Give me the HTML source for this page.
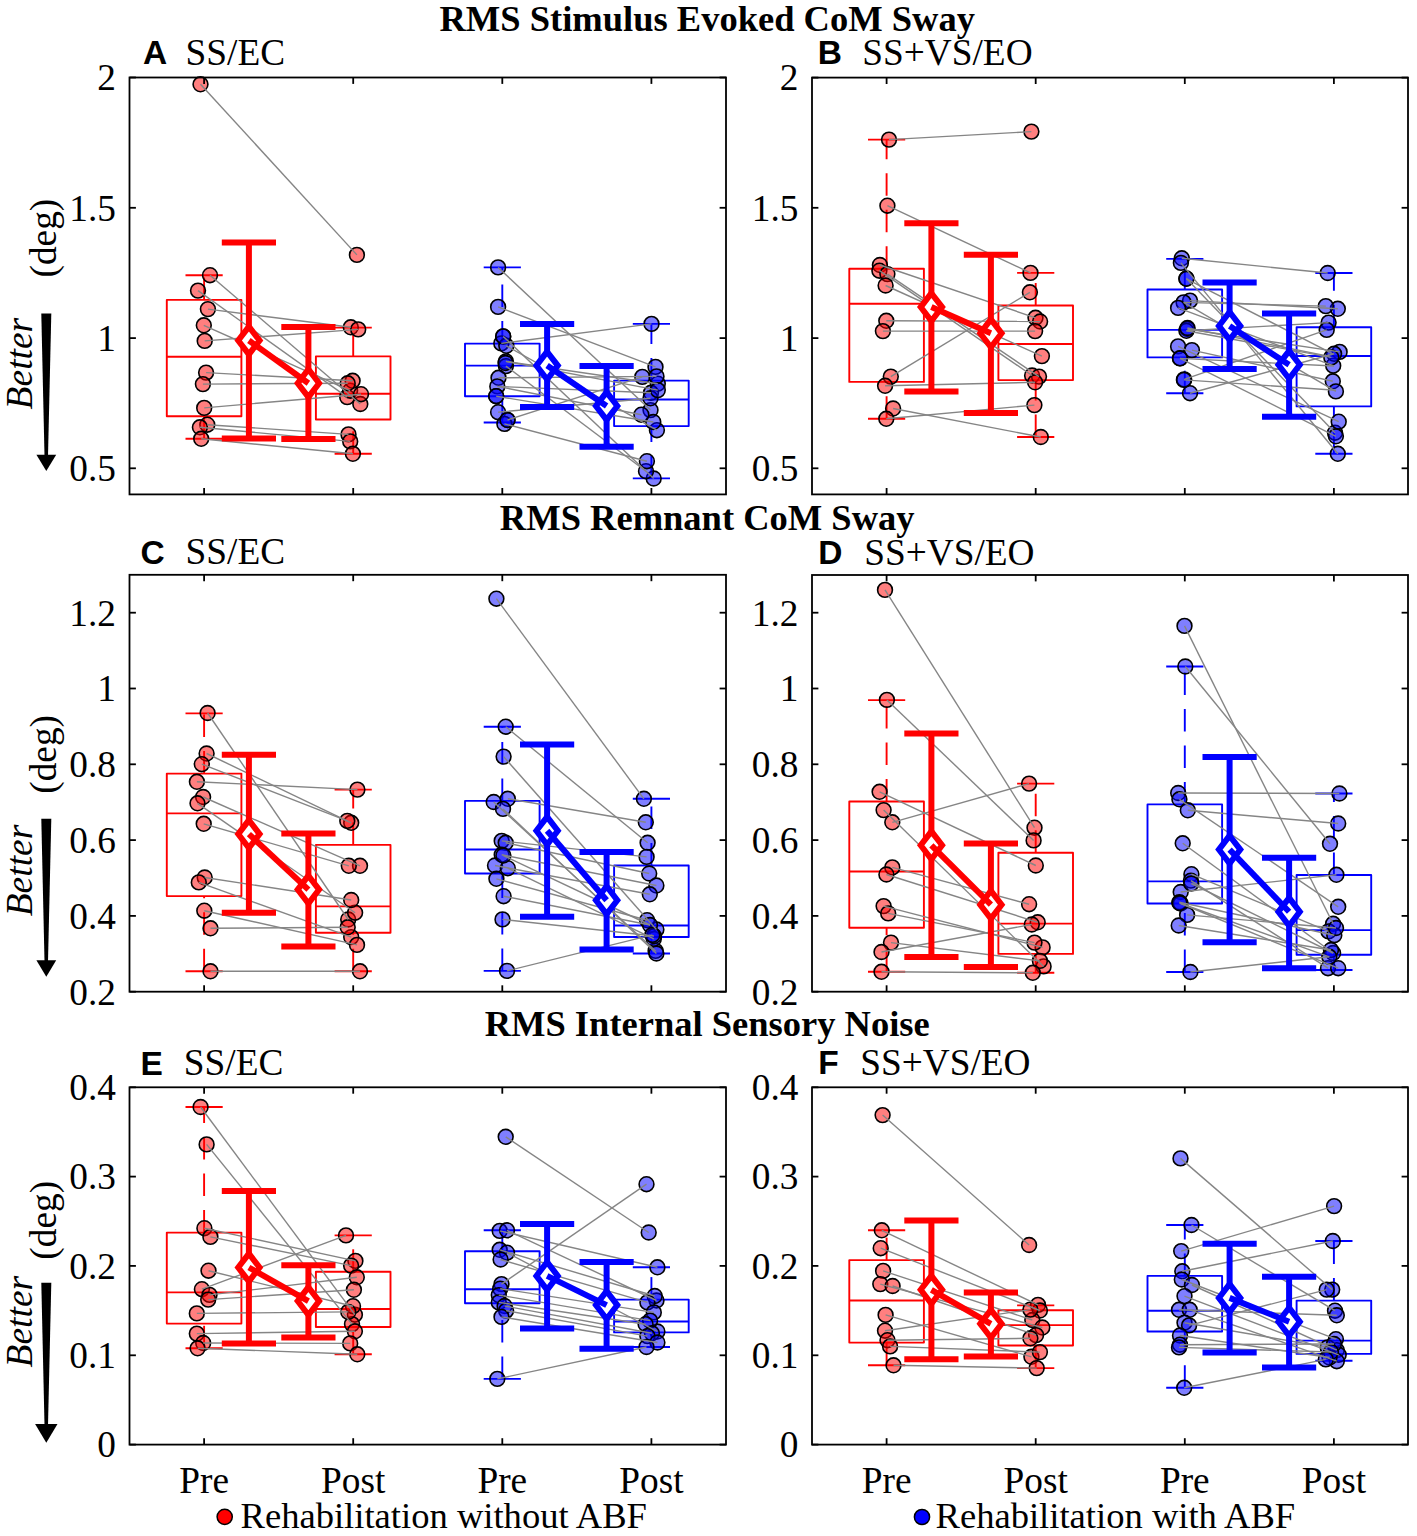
<!DOCTYPE html><html><head><meta charset="utf-8"><style>html,body{margin:0;padding:0;background:#fff}svg{display:block}.tl{font-family:"Liberation Serif",serif;font-size:37.3px;fill:#000}.lg{font-family:"Liberation Serif",serif;font-size:36.6px;fill:#000}.it{font-family:"Liberation Serif",serif;font-size:37.5px;font-style:italic;fill:#000}.pl{font-family:"Liberation Sans",sans-serif;font-size:33.5px;font-weight:bold;fill:#000}.tt{font-family:"Liberation Serif",serif;font-size:36.5px;font-weight:bold;fill:#000}</style></head><body>
<svg width="1417" height="1536" viewBox="0 0 1417 1536">
<rect width="1417" height="1536" fill="#fff"/>
<text x="707.2" y="31.1" text-anchor="middle" class="tt">RMS Stimulus Evoked CoM Sway</text>
<text x="707.2" y="530.3" text-anchor="middle" class="tt">RMS Remnant CoM Sway</text>
<text x="707.2" y="1035.6" text-anchor="middle" class="tt">RMS Internal Sensory Noise</text>
<rect x="166.8" y="299.9" width="74.6" height="116.3" fill="none" stroke="#ff0000" stroke-width="1.9" stroke-linejoin="round"/>
<line x1="166.8" y1="356.7" x2="241.4" y2="356.7" stroke="#ff0000" stroke-width="1.9"/>
<line x1="204.1" y1="299.9" x2="204.1" y2="275.2" stroke="#ff0000" stroke-width="1.9" stroke-dasharray="22.5,14"/>
<line x1="204.1" y1="438.8" x2="204.1" y2="416.2" stroke="#ff0000" stroke-width="1.9" stroke-dasharray="22.5,14"/>
<line x1="185.5" y1="275.2" x2="222.7" y2="275.2" stroke="#ff0000" stroke-width="1.9"/>
<line x1="185.5" y1="438.8" x2="222.7" y2="438.8" stroke="#ff0000" stroke-width="1.9"/>
<rect x="315.9" y="356.4" width="74.6" height="63.1" fill="none" stroke="#ff0000" stroke-width="1.9" stroke-linejoin="round"/>
<line x1="315.9" y1="393.7" x2="390.5" y2="393.7" stroke="#ff0000" stroke-width="1.9"/>
<line x1="353.2" y1="356.4" x2="353.2" y2="327.6" stroke="#ff0000" stroke-width="1.9" stroke-dasharray="22.5,14"/>
<line x1="353.2" y1="453.8" x2="353.2" y2="419.5" stroke="#ff0000" stroke-width="1.9" stroke-dasharray="22.5,14"/>
<line x1="334.6" y1="327.6" x2="371.8" y2="327.6" stroke="#ff0000" stroke-width="1.9"/>
<line x1="334.6" y1="453.8" x2="371.8" y2="453.8" stroke="#ff0000" stroke-width="1.9"/>
<circle cx="200.5" cy="84.3" r="7.4" fill="#ff0000" fill-opacity="0.5" stroke="#000" stroke-width="1.6"/>
<circle cx="356.9" cy="254.9" r="7.4" fill="#ff0000" fill-opacity="0.5" stroke="#000" stroke-width="1.6"/>
<circle cx="210.0" cy="275.2" r="7.4" fill="#ff0000" fill-opacity="0.5" stroke="#000" stroke-width="1.6"/>
<circle cx="360.3" cy="404.0" r="7.4" fill="#ff0000" fill-opacity="0.5" stroke="#000" stroke-width="1.6"/>
<circle cx="198.0" cy="290.6" r="7.4" fill="#ff0000" fill-opacity="0.5" stroke="#000" stroke-width="1.6"/>
<circle cx="347.2" cy="397.1" r="7.4" fill="#ff0000" fill-opacity="0.5" stroke="#000" stroke-width="1.6"/>
<circle cx="207.9" cy="309.1" r="7.4" fill="#ff0000" fill-opacity="0.5" stroke="#000" stroke-width="1.6"/>
<circle cx="350.8" cy="327.3" r="7.4" fill="#ff0000" fill-opacity="0.5" stroke="#000" stroke-width="1.6"/>
<circle cx="203.8" cy="325.3" r="7.4" fill="#ff0000" fill-opacity="0.5" stroke="#000" stroke-width="1.6"/>
<circle cx="350.1" cy="390.7" r="7.4" fill="#ff0000" fill-opacity="0.5" stroke="#000" stroke-width="1.6"/>
<circle cx="204.7" cy="340.9" r="7.4" fill="#ff0000" fill-opacity="0.5" stroke="#000" stroke-width="1.6"/>
<circle cx="358.2" cy="329.4" r="7.4" fill="#ff0000" fill-opacity="0.5" stroke="#000" stroke-width="1.6"/>
<circle cx="206.1" cy="372.6" r="7.4" fill="#ff0000" fill-opacity="0.5" stroke="#000" stroke-width="1.6"/>
<circle cx="352.6" cy="380.8" r="7.4" fill="#ff0000" fill-opacity="0.5" stroke="#000" stroke-width="1.6"/>
<circle cx="202.9" cy="384.1" r="7.4" fill="#ff0000" fill-opacity="0.5" stroke="#000" stroke-width="1.6"/>
<circle cx="347.7" cy="383.3" r="7.4" fill="#ff0000" fill-opacity="0.5" stroke="#000" stroke-width="1.6"/>
<circle cx="204.2" cy="407.9" r="7.4" fill="#ff0000" fill-opacity="0.5" stroke="#000" stroke-width="1.6"/>
<circle cx="361.0" cy="394.2" r="7.4" fill="#ff0000" fill-opacity="0.5" stroke="#000" stroke-width="1.6"/>
<circle cx="207.3" cy="424.7" r="7.4" fill="#ff0000" fill-opacity="0.5" stroke="#000" stroke-width="1.6"/>
<circle cx="348.5" cy="434.4" r="7.4" fill="#ff0000" fill-opacity="0.5" stroke="#000" stroke-width="1.6"/>
<circle cx="199.9" cy="427.3" r="7.4" fill="#ff0000" fill-opacity="0.5" stroke="#000" stroke-width="1.6"/>
<circle cx="350.2" cy="441.4" r="7.4" fill="#ff0000" fill-opacity="0.5" stroke="#000" stroke-width="1.6"/>
<circle cx="201.2" cy="438.8" r="7.4" fill="#ff0000" fill-opacity="0.5" stroke="#000" stroke-width="1.6"/>
<circle cx="352.9" cy="453.8" r="7.4" fill="#ff0000" fill-opacity="0.5" stroke="#000" stroke-width="1.6"/>
<line x1="200.5" y1="84.3" x2="356.9" y2="254.9" stroke="#858585" stroke-width="1.4"/>
<line x1="210.0" y1="275.2" x2="360.3" y2="404.0" stroke="#858585" stroke-width="1.4"/>
<line x1="198.0" y1="290.6" x2="347.2" y2="397.1" stroke="#858585" stroke-width="1.4"/>
<line x1="207.9" y1="309.1" x2="350.8" y2="327.3" stroke="#858585" stroke-width="1.4"/>
<line x1="203.8" y1="325.3" x2="350.1" y2="390.7" stroke="#858585" stroke-width="1.4"/>
<line x1="204.7" y1="340.9" x2="358.2" y2="329.4" stroke="#858585" stroke-width="1.4"/>
<line x1="206.1" y1="372.6" x2="352.6" y2="380.8" stroke="#858585" stroke-width="1.4"/>
<line x1="202.9" y1="384.1" x2="347.7" y2="383.3" stroke="#858585" stroke-width="1.4"/>
<line x1="204.2" y1="407.9" x2="361.0" y2="394.2" stroke="#858585" stroke-width="1.4"/>
<line x1="207.3" y1="424.7" x2="348.5" y2="434.4" stroke="#858585" stroke-width="1.4"/>
<line x1="199.9" y1="427.3" x2="350.2" y2="441.4" stroke="#858585" stroke-width="1.4"/>
<line x1="201.2" y1="438.8" x2="352.9" y2="453.8" stroke="#858585" stroke-width="1.4"/>
<line x1="248.9" y1="242.4" x2="248.9" y2="438.5" stroke="#ff0000" stroke-width="6"/>
<line x1="221.8" y1="242.4" x2="276.0" y2="242.4" stroke="#ff0000" stroke-width="6"/>
<line x1="221.8" y1="438.5" x2="276.0" y2="438.5" stroke="#ff0000" stroke-width="6"/>
<line x1="308.4" y1="327.1" x2="308.4" y2="439.1" stroke="#ff0000" stroke-width="6"/>
<line x1="281.3" y1="327.1" x2="335.5" y2="327.1" stroke="#ff0000" stroke-width="6"/>
<line x1="281.3" y1="439.1" x2="335.5" y2="439.1" stroke="#ff0000" stroke-width="6"/>
<path d="M248.9 326.6L259.6 340.5L248.9 354.4L238.2 340.5Z" fill="#fff" stroke="#ff0000" stroke-width="5.9"/>
<path d="M308.4 369.3L319.1 383.2L308.4 397.1L297.7 383.2Z" fill="#fff" stroke="#ff0000" stroke-width="5.9"/>
<line x1="248.9" y1="340.5" x2="308.4" y2="383.2" stroke="#ff0000" stroke-width="6"/>
<rect x="465.0" y="343.6" width="74.6" height="52.6" fill="none" stroke="#0000ff" stroke-width="1.9" stroke-linejoin="round"/>
<line x1="465.0" y1="365.6" x2="539.6" y2="365.6" stroke="#0000ff" stroke-width="1.9"/>
<line x1="502.3" y1="343.6" x2="502.3" y2="267.4" stroke="#0000ff" stroke-width="1.9" stroke-dasharray="22.5,14"/>
<line x1="502.3" y1="422.5" x2="502.3" y2="396.2" stroke="#0000ff" stroke-width="1.9" stroke-dasharray="22.5,14"/>
<line x1="483.7" y1="267.4" x2="520.9" y2="267.4" stroke="#0000ff" stroke-width="1.9"/>
<line x1="483.7" y1="422.5" x2="520.9" y2="422.5" stroke="#0000ff" stroke-width="1.9"/>
<rect x="614.1" y="380.6" width="74.6" height="45.5" fill="none" stroke="#0000ff" stroke-width="1.9" stroke-linejoin="round"/>
<line x1="614.1" y1="399.5" x2="688.7" y2="399.5" stroke="#0000ff" stroke-width="1.9"/>
<line x1="651.4" y1="380.6" x2="651.4" y2="323.9" stroke="#0000ff" stroke-width="1.9" stroke-dasharray="22.5,14"/>
<line x1="651.4" y1="478.4" x2="651.4" y2="426.1" stroke="#0000ff" stroke-width="1.9" stroke-dasharray="22.5,14"/>
<line x1="632.8" y1="323.9" x2="670.0" y2="323.9" stroke="#0000ff" stroke-width="1.9"/>
<line x1="632.8" y1="478.4" x2="670.0" y2="478.4" stroke="#0000ff" stroke-width="1.9"/>
<circle cx="498.1" cy="267.4" r="7.4" fill="#0000ff" fill-opacity="0.5" stroke="#000" stroke-width="1.6"/>
<circle cx="650.5" cy="410.1" r="7.4" fill="#0000ff" fill-opacity="0.5" stroke="#000" stroke-width="1.6"/>
<circle cx="498.1" cy="306.9" r="7.4" fill="#0000ff" fill-opacity="0.5" stroke="#000" stroke-width="1.6"/>
<circle cx="655.5" cy="366.9" r="7.4" fill="#0000ff" fill-opacity="0.5" stroke="#000" stroke-width="1.6"/>
<circle cx="503.2" cy="336.4" r="7.4" fill="#0000ff" fill-opacity="0.5" stroke="#000" stroke-width="1.6"/>
<circle cx="653.7" cy="478.5" r="7.4" fill="#0000ff" fill-opacity="0.5" stroke="#000" stroke-width="1.6"/>
<circle cx="501.3" cy="343.4" r="7.4" fill="#0000ff" fill-opacity="0.5" stroke="#000" stroke-width="1.6"/>
<circle cx="651.5" cy="323.9" r="7.4" fill="#0000ff" fill-opacity="0.5" stroke="#000" stroke-width="1.6"/>
<circle cx="506.3" cy="345.8" r="7.4" fill="#0000ff" fill-opacity="0.5" stroke="#000" stroke-width="1.6"/>
<circle cx="656.9" cy="430.2" r="7.4" fill="#0000ff" fill-opacity="0.5" stroke="#000" stroke-width="1.6"/>
<circle cx="505.9" cy="361.4" r="7.4" fill="#0000ff" fill-opacity="0.5" stroke="#000" stroke-width="1.6"/>
<circle cx="657.8" cy="383.7" r="7.4" fill="#0000ff" fill-opacity="0.5" stroke="#000" stroke-width="1.6"/>
<circle cx="505.9" cy="366.1" r="7.4" fill="#0000ff" fill-opacity="0.5" stroke="#000" stroke-width="1.6"/>
<circle cx="646.0" cy="471.2" r="7.4" fill="#0000ff" fill-opacity="0.5" stroke="#000" stroke-width="1.6"/>
<circle cx="498.5" cy="377.8" r="7.4" fill="#0000ff" fill-opacity="0.5" stroke="#000" stroke-width="1.6"/>
<circle cx="656.5" cy="376.4" r="7.4" fill="#0000ff" fill-opacity="0.5" stroke="#000" stroke-width="1.6"/>
<circle cx="497.3" cy="386.4" r="7.4" fill="#0000ff" fill-opacity="0.5" stroke="#000" stroke-width="1.6"/>
<circle cx="651.0" cy="392.8" r="7.4" fill="#0000ff" fill-opacity="0.5" stroke="#000" stroke-width="1.6"/>
<circle cx="496.2" cy="396.2" r="7.4" fill="#0000ff" fill-opacity="0.5" stroke="#000" stroke-width="1.6"/>
<circle cx="653.3" cy="422.0" r="7.4" fill="#0000ff" fill-opacity="0.5" stroke="#000" stroke-width="1.6"/>
<circle cx="498.1" cy="412.2" r="7.4" fill="#0000ff" fill-opacity="0.5" stroke="#000" stroke-width="1.6"/>
<circle cx="650.5" cy="398.3" r="7.4" fill="#0000ff" fill-opacity="0.5" stroke="#000" stroke-width="1.6"/>
<circle cx="507.5" cy="420.0" r="7.4" fill="#0000ff" fill-opacity="0.5" stroke="#000" stroke-width="1.6"/>
<circle cx="642.3" cy="376.9" r="7.4" fill="#0000ff" fill-opacity="0.5" stroke="#000" stroke-width="1.6"/>
<circle cx="504.4" cy="423.9" r="7.4" fill="#0000ff" fill-opacity="0.5" stroke="#000" stroke-width="1.6"/>
<circle cx="646.9" cy="461.2" r="7.4" fill="#0000ff" fill-opacity="0.5" stroke="#000" stroke-width="1.6"/>
<circle cx="657.8" cy="390.1" r="7.4" fill="#0000ff" fill-opacity="0.5" stroke="#000" stroke-width="1.6"/>
<circle cx="641.4" cy="414.7" r="7.4" fill="#0000ff" fill-opacity="0.5" stroke="#000" stroke-width="1.6"/>
<circle cx="505.5" cy="363.0" r="7.4" fill="#0000ff" fill-opacity="0.5" stroke="#000" stroke-width="1.6"/>
<circle cx="496.2" cy="396.2" r="7.4" fill="#0000ff" fill-opacity="0.5" stroke="#000" stroke-width="1.6"/>
<circle cx="507.5" cy="420.0" r="7.4" fill="#0000ff" fill-opacity="0.5" stroke="#000" stroke-width="1.6"/>
<circle cx="503.2" cy="336.4" r="7.4" fill="#0000ff" fill-opacity="0.5" stroke="#000" stroke-width="1.6"/>
<line x1="498.1" y1="267.4" x2="650.5" y2="410.1" stroke="#858585" stroke-width="1.4"/>
<line x1="498.1" y1="306.9" x2="655.5" y2="366.9" stroke="#858585" stroke-width="1.4"/>
<line x1="503.2" y1="336.4" x2="653.7" y2="478.5" stroke="#858585" stroke-width="1.4"/>
<line x1="501.3" y1="343.4" x2="651.5" y2="323.9" stroke="#858585" stroke-width="1.4"/>
<line x1="506.3" y1="345.8" x2="656.9" y2="430.2" stroke="#858585" stroke-width="1.4"/>
<line x1="505.9" y1="361.4" x2="657.8" y2="383.7" stroke="#858585" stroke-width="1.4"/>
<line x1="505.9" y1="366.1" x2="646.0" y2="471.2" stroke="#858585" stroke-width="1.4"/>
<line x1="498.5" y1="377.8" x2="656.5" y2="376.4" stroke="#858585" stroke-width="1.4"/>
<line x1="497.3" y1="386.4" x2="651.0" y2="392.8" stroke="#858585" stroke-width="1.4"/>
<line x1="496.2" y1="396.2" x2="653.3" y2="422.0" stroke="#858585" stroke-width="1.4"/>
<line x1="498.1" y1="412.2" x2="650.5" y2="398.3" stroke="#858585" stroke-width="1.4"/>
<line x1="507.5" y1="420.0" x2="642.3" y2="376.9" stroke="#858585" stroke-width="1.4"/>
<line x1="504.4" y1="423.9" x2="646.9" y2="461.2" stroke="#858585" stroke-width="1.4"/>
<line x1="505.9" y1="361.4" x2="657.8" y2="390.1" stroke="#858585" stroke-width="1.4"/>
<line x1="497.3" y1="386.4" x2="641.4" y2="414.7" stroke="#858585" stroke-width="1.4"/>
<line x1="505.5" y1="363.0" x2="505.5" y2="363.0" stroke="#858585" stroke-width="1.4"/>
<line x1="496.2" y1="396.2" x2="496.2" y2="396.2" stroke="#858585" stroke-width="1.4"/>
<line x1="507.5" y1="420.0" x2="507.5" y2="420.0" stroke="#858585" stroke-width="1.4"/>
<line x1="503.2" y1="336.4" x2="503.2" y2="336.4" stroke="#858585" stroke-width="1.4"/>
<line x1="547.1" y1="323.9" x2="547.1" y2="406.9" stroke="#0000ff" stroke-width="6"/>
<line x1="520.0" y1="323.9" x2="574.2" y2="323.9" stroke="#0000ff" stroke-width="6"/>
<line x1="520.0" y1="406.9" x2="574.2" y2="406.9" stroke="#0000ff" stroke-width="6"/>
<line x1="606.6" y1="366.0" x2="606.6" y2="446.7" stroke="#0000ff" stroke-width="6"/>
<line x1="579.5" y1="366.0" x2="633.7" y2="366.0" stroke="#0000ff" stroke-width="6"/>
<line x1="579.5" y1="446.7" x2="633.7" y2="446.7" stroke="#0000ff" stroke-width="6"/>
<path d="M547.1 351.7L557.8 365.6L547.1 379.5L536.4 365.6Z" fill="#fff" stroke="#0000ff" stroke-width="5.9"/>
<path d="M606.6 392.1L617.3 406.0L606.6 419.9L595.9 406.0Z" fill="#fff" stroke="#0000ff" stroke-width="5.9"/>
<line x1="547.1" y1="365.6" x2="606.6" y2="406.0" stroke="#0000ff" stroke-width="6"/>
<rect x="129.5" y="77.5" width="596.5" height="416.9" fill="none" stroke="#000" stroke-width="1.8"/>
<line x1="129.5" y1="468.3" x2="135.9" y2="468.3" stroke="#000" stroke-width="1.8"/>
<line x1="726.0" y1="468.3" x2="719.6" y2="468.3" stroke="#000" stroke-width="1.8"/>
<text x="115.9" y="481.1" text-anchor="end" class="tl">0.5</text>
<line x1="129.5" y1="338.1" x2="135.9" y2="338.1" stroke="#000" stroke-width="1.8"/>
<line x1="726.0" y1="338.1" x2="719.6" y2="338.1" stroke="#000" stroke-width="1.8"/>
<text x="115.9" y="350.9" text-anchor="end" class="tl">1</text>
<line x1="129.5" y1="207.8" x2="135.9" y2="207.8" stroke="#000" stroke-width="1.8"/>
<line x1="726.0" y1="207.8" x2="719.6" y2="207.8" stroke="#000" stroke-width="1.8"/>
<text x="115.9" y="220.6" text-anchor="end" class="tl">1.5</text>
<line x1="129.5" y1="77.5" x2="135.9" y2="77.5" stroke="#000" stroke-width="1.8"/>
<line x1="726.0" y1="77.5" x2="719.6" y2="77.5" stroke="#000" stroke-width="1.8"/>
<text x="115.9" y="90.3" text-anchor="end" class="tl">2</text>
<line x1="204.1" y1="494.4" x2="204.1" y2="488.0" stroke="#000" stroke-width="1.8"/>
<line x1="204.1" y1="77.5" x2="204.1" y2="83.9" stroke="#000" stroke-width="1.8"/>
<line x1="353.2" y1="494.4" x2="353.2" y2="488.0" stroke="#000" stroke-width="1.8"/>
<line x1="353.2" y1="77.5" x2="353.2" y2="83.9" stroke="#000" stroke-width="1.8"/>
<line x1="502.3" y1="494.4" x2="502.3" y2="488.0" stroke="#000" stroke-width="1.8"/>
<line x1="502.3" y1="77.5" x2="502.3" y2="83.9" stroke="#000" stroke-width="1.8"/>
<line x1="651.4" y1="494.4" x2="651.4" y2="488.0" stroke="#000" stroke-width="1.8"/>
<line x1="651.4" y1="77.5" x2="651.4" y2="83.9" stroke="#000" stroke-width="1.8"/>
<text x="143.0" y="64.0" class="pl">A</text>
<text x="185.6" y="65.0" class="tl">SS/EC</text>
<rect x="849.3" y="268.8" width="74.6" height="113.1" fill="none" stroke="#ff0000" stroke-width="1.9" stroke-linejoin="round"/>
<line x1="849.3" y1="303.7" x2="923.9" y2="303.7" stroke="#ff0000" stroke-width="1.9"/>
<line x1="886.6" y1="268.8" x2="886.6" y2="139.6" stroke="#ff0000" stroke-width="1.9" stroke-dasharray="22.5,14"/>
<line x1="886.6" y1="418.8" x2="886.6" y2="381.9" stroke="#ff0000" stroke-width="1.9" stroke-dasharray="22.5,14"/>
<line x1="868.0" y1="139.6" x2="905.2" y2="139.6" stroke="#ff0000" stroke-width="1.9"/>
<line x1="868.0" y1="418.8" x2="905.2" y2="418.8" stroke="#ff0000" stroke-width="1.9"/>
<rect x="998.4" y="305.5" width="74.6" height="74.6" fill="none" stroke="#ff0000" stroke-width="1.9" stroke-linejoin="round"/>
<line x1="998.4" y1="344.0" x2="1073.0" y2="344.0" stroke="#ff0000" stroke-width="1.9"/>
<line x1="1035.7" y1="305.5" x2="1035.7" y2="272.9" stroke="#ff0000" stroke-width="1.9" stroke-dasharray="22.5,14"/>
<line x1="1035.7" y1="437.0" x2="1035.7" y2="380.1" stroke="#ff0000" stroke-width="1.9" stroke-dasharray="22.5,14"/>
<line x1="1017.1" y1="272.9" x2="1054.3" y2="272.9" stroke="#ff0000" stroke-width="1.9"/>
<line x1="1017.1" y1="437.0" x2="1054.3" y2="437.0" stroke="#ff0000" stroke-width="1.9"/>
<circle cx="889.0" cy="139.6" r="7.4" fill="#ff0000" fill-opacity="0.5" stroke="#000" stroke-width="1.6"/>
<circle cx="1031.4" cy="131.6" r="7.4" fill="#ff0000" fill-opacity="0.5" stroke="#000" stroke-width="1.6"/>
<circle cx="887.4" cy="205.7" r="7.4" fill="#ff0000" fill-opacity="0.5" stroke="#000" stroke-width="1.6"/>
<circle cx="1030.5" cy="272.9" r="7.4" fill="#ff0000" fill-opacity="0.5" stroke="#000" stroke-width="1.6"/>
<circle cx="879.9" cy="265.0" r="7.4" fill="#ff0000" fill-opacity="0.5" stroke="#000" stroke-width="1.6"/>
<circle cx="1035.5" cy="317.8" r="7.4" fill="#ff0000" fill-opacity="0.5" stroke="#000" stroke-width="1.6"/>
<circle cx="879.4" cy="270.7" r="7.4" fill="#ff0000" fill-opacity="0.5" stroke="#000" stroke-width="1.6"/>
<circle cx="1032.1" cy="375.5" r="7.4" fill="#ff0000" fill-opacity="0.5" stroke="#000" stroke-width="1.6"/>
<circle cx="887.4" cy="274.1" r="7.4" fill="#ff0000" fill-opacity="0.5" stroke="#000" stroke-width="1.6"/>
<circle cx="1039.0" cy="376.6" r="7.4" fill="#ff0000" fill-opacity="0.5" stroke="#000" stroke-width="1.6"/>
<circle cx="885.6" cy="285.5" r="7.4" fill="#ff0000" fill-opacity="0.5" stroke="#000" stroke-width="1.6"/>
<circle cx="1041.9" cy="356.1" r="7.4" fill="#ff0000" fill-opacity="0.5" stroke="#000" stroke-width="1.6"/>
<circle cx="886.3" cy="320.8" r="7.4" fill="#ff0000" fill-opacity="0.5" stroke="#000" stroke-width="1.6"/>
<circle cx="1040.1" cy="321.5" r="7.4" fill="#ff0000" fill-opacity="0.5" stroke="#000" stroke-width="1.6"/>
<circle cx="882.9" cy="331.1" r="7.4" fill="#ff0000" fill-opacity="0.5" stroke="#000" stroke-width="1.6"/>
<circle cx="1035.1" cy="331.1" r="7.4" fill="#ff0000" fill-opacity="0.5" stroke="#000" stroke-width="1.6"/>
<circle cx="890.8" cy="376.6" r="7.4" fill="#ff0000" fill-opacity="0.5" stroke="#000" stroke-width="1.6"/>
<circle cx="1029.9" cy="292.3" r="7.4" fill="#ff0000" fill-opacity="0.5" stroke="#000" stroke-width="1.6"/>
<circle cx="885.1" cy="385.8" r="7.4" fill="#ff0000" fill-opacity="0.5" stroke="#000" stroke-width="1.6"/>
<circle cx="1035.1" cy="382.3" r="7.4" fill="#ff0000" fill-opacity="0.5" stroke="#000" stroke-width="1.6"/>
<circle cx="893.1" cy="408.5" r="7.4" fill="#ff0000" fill-opacity="0.5" stroke="#000" stroke-width="1.6"/>
<circle cx="1040.8" cy="437.0" r="7.4" fill="#ff0000" fill-opacity="0.5" stroke="#000" stroke-width="1.6"/>
<circle cx="886.3" cy="418.8" r="7.4" fill="#ff0000" fill-opacity="0.5" stroke="#000" stroke-width="1.6"/>
<circle cx="1034.4" cy="405.1" r="7.4" fill="#ff0000" fill-opacity="0.5" stroke="#000" stroke-width="1.6"/>
<line x1="889.0" y1="139.6" x2="1031.4" y2="131.6" stroke="#858585" stroke-width="1.4"/>
<line x1="887.4" y1="205.7" x2="1030.5" y2="272.9" stroke="#858585" stroke-width="1.4"/>
<line x1="879.9" y1="265.0" x2="1035.5" y2="317.8" stroke="#858585" stroke-width="1.4"/>
<line x1="879.4" y1="270.7" x2="1032.1" y2="375.5" stroke="#858585" stroke-width="1.4"/>
<line x1="887.4" y1="274.1" x2="1039.0" y2="376.6" stroke="#858585" stroke-width="1.4"/>
<line x1="885.6" y1="285.5" x2="1041.9" y2="356.1" stroke="#858585" stroke-width="1.4"/>
<line x1="886.3" y1="320.8" x2="1040.1" y2="321.5" stroke="#858585" stroke-width="1.4"/>
<line x1="882.9" y1="331.1" x2="1035.1" y2="331.1" stroke="#858585" stroke-width="1.4"/>
<line x1="890.8" y1="376.6" x2="1029.9" y2="292.3" stroke="#858585" stroke-width="1.4"/>
<line x1="885.1" y1="385.8" x2="1035.1" y2="382.3" stroke="#858585" stroke-width="1.4"/>
<line x1="893.1" y1="408.5" x2="1040.8" y2="437.0" stroke="#858585" stroke-width="1.4"/>
<line x1="886.3" y1="418.8" x2="1034.4" y2="405.1" stroke="#858585" stroke-width="1.4"/>
<line x1="931.4" y1="223.3" x2="931.4" y2="391.5" stroke="#ff0000" stroke-width="6"/>
<line x1="904.3" y1="223.3" x2="958.5" y2="223.3" stroke="#ff0000" stroke-width="6"/>
<line x1="904.3" y1="391.5" x2="958.5" y2="391.5" stroke="#ff0000" stroke-width="6"/>
<line x1="990.9" y1="254.7" x2="990.9" y2="413.1" stroke="#ff0000" stroke-width="6"/>
<line x1="963.8" y1="254.7" x2="1018.0" y2="254.7" stroke="#ff0000" stroke-width="6"/>
<line x1="963.8" y1="413.1" x2="1018.0" y2="413.1" stroke="#ff0000" stroke-width="6"/>
<path d="M931.4 293.2L942.1 307.1L931.4 321.0L920.7 307.1Z" fill="#fff" stroke="#ff0000" stroke-width="5.9"/>
<path d="M990.9 319.4L1001.6 333.3L990.9 347.2L980.2 333.3Z" fill="#fff" stroke="#ff0000" stroke-width="5.9"/>
<line x1="931.4" y1="307.1" x2="990.9" y2="333.3" stroke="#ff0000" stroke-width="6"/>
<rect x="1147.5" y="289.5" width="74.6" height="67.9" fill="none" stroke="#0000ff" stroke-width="1.9" stroke-linejoin="round"/>
<line x1="1147.5" y1="329.9" x2="1222.1" y2="329.9" stroke="#0000ff" stroke-width="1.9"/>
<line x1="1184.8" y1="289.5" x2="1184.8" y2="258.9" stroke="#0000ff" stroke-width="1.9" stroke-dasharray="22.5,14"/>
<line x1="1184.8" y1="393.2" x2="1184.8" y2="357.4" stroke="#0000ff" stroke-width="1.9" stroke-dasharray="22.5,14"/>
<line x1="1166.2" y1="258.9" x2="1203.4" y2="258.9" stroke="#0000ff" stroke-width="1.9"/>
<line x1="1166.2" y1="393.2" x2="1203.4" y2="393.2" stroke="#0000ff" stroke-width="1.9"/>
<rect x="1296.6" y="327.2" width="74.6" height="79.2" fill="none" stroke="#0000ff" stroke-width="1.9" stroke-linejoin="round"/>
<line x1="1296.6" y1="356.0" x2="1371.2" y2="356.0" stroke="#0000ff" stroke-width="1.9"/>
<line x1="1333.9" y1="327.2" x2="1333.9" y2="273.0" stroke="#0000ff" stroke-width="1.9" stroke-dasharray="22.5,14"/>
<line x1="1333.9" y1="453.8" x2="1333.9" y2="406.4" stroke="#0000ff" stroke-width="1.9" stroke-dasharray="22.5,14"/>
<line x1="1315.3" y1="273.0" x2="1352.5" y2="273.0" stroke="#0000ff" stroke-width="1.9"/>
<line x1="1315.3" y1="453.8" x2="1352.5" y2="453.8" stroke="#0000ff" stroke-width="1.9"/>
<circle cx="1181.8" cy="258.3" r="7.4" fill="#0000ff" fill-opacity="0.5" stroke="#000" stroke-width="1.6"/>
<circle cx="1327.7" cy="273.0" r="7.4" fill="#0000ff" fill-opacity="0.5" stroke="#000" stroke-width="1.6"/>
<circle cx="1180.9" cy="262.9" r="7.4" fill="#0000ff" fill-opacity="0.5" stroke="#000" stroke-width="1.6"/>
<circle cx="1337.8" cy="453.8" r="7.4" fill="#0000ff" fill-opacity="0.5" stroke="#000" stroke-width="1.6"/>
<circle cx="1186.4" cy="278.5" r="7.4" fill="#0000ff" fill-opacity="0.5" stroke="#000" stroke-width="1.6"/>
<circle cx="1335.0" cy="432.7" r="7.4" fill="#0000ff" fill-opacity="0.5" stroke="#000" stroke-width="1.6"/>
<circle cx="1190.0" cy="300.6" r="7.4" fill="#0000ff" fill-opacity="0.5" stroke="#000" stroke-width="1.6"/>
<circle cx="1337.8" cy="308.8" r="7.4" fill="#0000ff" fill-opacity="0.5" stroke="#000" stroke-width="1.6"/>
<circle cx="1183.6" cy="302.4" r="7.4" fill="#0000ff" fill-opacity="0.5" stroke="#000" stroke-width="1.6"/>
<circle cx="1325.8" cy="306.1" r="7.4" fill="#0000ff" fill-opacity="0.5" stroke="#000" stroke-width="1.6"/>
<circle cx="1178.1" cy="307.9" r="7.4" fill="#0000ff" fill-opacity="0.5" stroke="#000" stroke-width="1.6"/>
<circle cx="1333.2" cy="365.7" r="7.4" fill="#0000ff" fill-opacity="0.5" stroke="#000" stroke-width="1.6"/>
<circle cx="1187.3" cy="329.0" r="7.4" fill="#0000ff" fill-opacity="0.5" stroke="#000" stroke-width="1.6"/>
<circle cx="1339.6" cy="351.9" r="7.4" fill="#0000ff" fill-opacity="0.5" stroke="#000" stroke-width="1.6"/>
<circle cx="1186.4" cy="330.8" r="7.4" fill="#0000ff" fill-opacity="0.5" stroke="#000" stroke-width="1.6"/>
<circle cx="1328.6" cy="322.6" r="7.4" fill="#0000ff" fill-opacity="0.5" stroke="#000" stroke-width="1.6"/>
<circle cx="1178.1" cy="346.4" r="7.4" fill="#0000ff" fill-opacity="0.5" stroke="#000" stroke-width="1.6"/>
<circle cx="1338.7" cy="421.7" r="7.4" fill="#0000ff" fill-opacity="0.5" stroke="#000" stroke-width="1.6"/>
<circle cx="1191.9" cy="350.1" r="7.4" fill="#0000ff" fill-opacity="0.5" stroke="#000" stroke-width="1.6"/>
<circle cx="1332.8" cy="381.3" r="7.4" fill="#0000ff" fill-opacity="0.5" stroke="#000" stroke-width="1.6"/>
<circle cx="1180.0" cy="358.3" r="7.4" fill="#0000ff" fill-opacity="0.5" stroke="#000" stroke-width="1.6"/>
<circle cx="1335.9" cy="436.3" r="7.4" fill="#0000ff" fill-opacity="0.5" stroke="#000" stroke-width="1.6"/>
<circle cx="1184.2" cy="379.4" r="7.4" fill="#0000ff" fill-opacity="0.5" stroke="#000" stroke-width="1.6"/>
<circle cx="1326.7" cy="329.9" r="7.4" fill="#0000ff" fill-opacity="0.5" stroke="#000" stroke-width="1.6"/>
<circle cx="1190.0" cy="393.2" r="7.4" fill="#0000ff" fill-opacity="0.5" stroke="#000" stroke-width="1.6"/>
<circle cx="1334.1" cy="353.8" r="7.4" fill="#0000ff" fill-opacity="0.5" stroke="#000" stroke-width="1.6"/>
<circle cx="1331.3" cy="357.4" r="7.4" fill="#0000ff" fill-opacity="0.5" stroke="#000" stroke-width="1.6"/>
<circle cx="1335.9" cy="391.4" r="7.4" fill="#0000ff" fill-opacity="0.5" stroke="#000" stroke-width="1.6"/>
<circle cx="1186.4" cy="278.8" r="7.4" fill="#0000ff" fill-opacity="0.5" stroke="#000" stroke-width="1.6"/>
<circle cx="1187.5" cy="328.0" r="7.4" fill="#0000ff" fill-opacity="0.5" stroke="#000" stroke-width="1.6"/>
<circle cx="1183.9" cy="379.9" r="7.4" fill="#0000ff" fill-opacity="0.5" stroke="#000" stroke-width="1.6"/>
<circle cx="1180.0" cy="358.4" r="7.4" fill="#0000ff" fill-opacity="0.5" stroke="#000" stroke-width="1.6"/>
<line x1="1181.8" y1="258.3" x2="1327.7" y2="273.0" stroke="#858585" stroke-width="1.4"/>
<line x1="1180.9" y1="262.9" x2="1337.8" y2="453.8" stroke="#858585" stroke-width="1.4"/>
<line x1="1186.4" y1="278.5" x2="1335.0" y2="432.7" stroke="#858585" stroke-width="1.4"/>
<line x1="1190.0" y1="300.6" x2="1337.8" y2="308.8" stroke="#858585" stroke-width="1.4"/>
<line x1="1183.6" y1="302.4" x2="1325.8" y2="306.1" stroke="#858585" stroke-width="1.4"/>
<line x1="1178.1" y1="307.9" x2="1333.2" y2="365.7" stroke="#858585" stroke-width="1.4"/>
<line x1="1187.3" y1="329.0" x2="1339.6" y2="351.9" stroke="#858585" stroke-width="1.4"/>
<line x1="1186.4" y1="330.8" x2="1328.6" y2="322.6" stroke="#858585" stroke-width="1.4"/>
<line x1="1178.1" y1="346.4" x2="1338.7" y2="421.7" stroke="#858585" stroke-width="1.4"/>
<line x1="1191.9" y1="350.1" x2="1332.8" y2="381.3" stroke="#858585" stroke-width="1.4"/>
<line x1="1180.0" y1="358.3" x2="1335.9" y2="436.3" stroke="#858585" stroke-width="1.4"/>
<line x1="1184.2" y1="379.4" x2="1326.7" y2="329.9" stroke="#858585" stroke-width="1.4"/>
<line x1="1190.0" y1="393.2" x2="1334.1" y2="353.8" stroke="#858585" stroke-width="1.4"/>
<line x1="1186.4" y1="330.8" x2="1331.3" y2="357.4" stroke="#858585" stroke-width="1.4"/>
<line x1="1183.6" y1="302.4" x2="1335.9" y2="391.4" stroke="#858585" stroke-width="1.4"/>
<line x1="1186.4" y1="278.8" x2="1332.8" y2="353.8" stroke="#858585" stroke-width="1.4"/>
<line x1="1187.5" y1="328.0" x2="1329.5" y2="356.4" stroke="#858585" stroke-width="1.4"/>
<line x1="1183.9" y1="379.9" x2="1336.0" y2="390.2" stroke="#858585" stroke-width="1.4"/>
<line x1="1180.0" y1="358.4" x2="1334.0" y2="366.0" stroke="#858585" stroke-width="1.4"/>
<line x1="1229.6" y1="282.6" x2="1229.6" y2="369.0" stroke="#0000ff" stroke-width="6"/>
<line x1="1202.5" y1="282.6" x2="1256.7" y2="282.6" stroke="#0000ff" stroke-width="6"/>
<line x1="1202.5" y1="369.0" x2="1256.7" y2="369.0" stroke="#0000ff" stroke-width="6"/>
<line x1="1289.1" y1="313.4" x2="1289.1" y2="416.7" stroke="#0000ff" stroke-width="6"/>
<line x1="1262.0" y1="313.4" x2="1316.2" y2="313.4" stroke="#0000ff" stroke-width="6"/>
<line x1="1262.0" y1="416.7" x2="1316.2" y2="416.7" stroke="#0000ff" stroke-width="6"/>
<path d="M1229.6 312.0L1240.3 325.9L1229.6 339.8L1218.9 325.9Z" fill="#fff" stroke="#0000ff" stroke-width="5.9"/>
<path d="M1289.1 350.9L1299.8 364.8L1289.1 378.7L1278.4 364.8Z" fill="#fff" stroke="#0000ff" stroke-width="5.9"/>
<line x1="1229.6" y1="325.9" x2="1289.1" y2="364.8" stroke="#0000ff" stroke-width="6"/>
<rect x="812.0" y="77.6" width="596.0" height="416.8" fill="none" stroke="#000" stroke-width="1.8"/>
<line x1="812.0" y1="468.3" x2="818.4" y2="468.3" stroke="#000" stroke-width="1.8"/>
<line x1="1408.0" y1="468.3" x2="1401.6" y2="468.3" stroke="#000" stroke-width="1.8"/>
<text x="798.4" y="481.1" text-anchor="end" class="tl">0.5</text>
<line x1="812.0" y1="338.1" x2="818.4" y2="338.1" stroke="#000" stroke-width="1.8"/>
<line x1="1408.0" y1="338.1" x2="1401.6" y2="338.1" stroke="#000" stroke-width="1.8"/>
<text x="798.4" y="350.9" text-anchor="end" class="tl">1</text>
<line x1="812.0" y1="207.8" x2="818.4" y2="207.8" stroke="#000" stroke-width="1.8"/>
<line x1="1408.0" y1="207.8" x2="1401.6" y2="207.8" stroke="#000" stroke-width="1.8"/>
<text x="798.4" y="220.6" text-anchor="end" class="tl">1.5</text>
<line x1="812.0" y1="77.6" x2="818.4" y2="77.6" stroke="#000" stroke-width="1.8"/>
<line x1="1408.0" y1="77.6" x2="1401.6" y2="77.6" stroke="#000" stroke-width="1.8"/>
<text x="798.4" y="90.4" text-anchor="end" class="tl">2</text>
<line x1="886.6" y1="494.4" x2="886.6" y2="488.0" stroke="#000" stroke-width="1.8"/>
<line x1="886.6" y1="77.6" x2="886.6" y2="84.0" stroke="#000" stroke-width="1.8"/>
<line x1="1035.7" y1="494.4" x2="1035.7" y2="488.0" stroke="#000" stroke-width="1.8"/>
<line x1="1035.7" y1="77.6" x2="1035.7" y2="84.0" stroke="#000" stroke-width="1.8"/>
<line x1="1184.8" y1="494.4" x2="1184.8" y2="488.0" stroke="#000" stroke-width="1.8"/>
<line x1="1184.8" y1="77.6" x2="1184.8" y2="84.0" stroke="#000" stroke-width="1.8"/>
<line x1="1333.9" y1="494.4" x2="1333.9" y2="488.0" stroke="#000" stroke-width="1.8"/>
<line x1="1333.9" y1="77.6" x2="1333.9" y2="84.0" stroke="#000" stroke-width="1.8"/>
<text x="817.7" y="64.0" class="pl">B</text>
<text x="862.3" y="64.6" class="tl">SS+VS/EO</text>
<rect x="166.8" y="773.6" width="74.6" height="122.5" fill="none" stroke="#ff0000" stroke-width="1.9" stroke-linejoin="round"/>
<line x1="166.8" y1="813.4" x2="241.4" y2="813.4" stroke="#ff0000" stroke-width="1.9"/>
<line x1="204.1" y1="773.6" x2="204.1" y2="713.4" stroke="#ff0000" stroke-width="1.9" stroke-dasharray="22.5,14"/>
<line x1="204.1" y1="971.3" x2="204.1" y2="896.1" stroke="#ff0000" stroke-width="1.9" stroke-dasharray="22.5,14"/>
<line x1="185.5" y1="713.4" x2="222.7" y2="713.4" stroke="#ff0000" stroke-width="1.9"/>
<line x1="185.5" y1="971.3" x2="222.7" y2="971.3" stroke="#ff0000" stroke-width="1.9"/>
<rect x="315.9" y="844.9" width="74.6" height="87.9" fill="none" stroke="#ff0000" stroke-width="1.9" stroke-linejoin="round"/>
<line x1="315.9" y1="906.4" x2="390.5" y2="906.4" stroke="#ff0000" stroke-width="1.9"/>
<line x1="353.2" y1="844.9" x2="353.2" y2="789.6" stroke="#ff0000" stroke-width="1.9" stroke-dasharray="22.5,14"/>
<line x1="353.2" y1="971.3" x2="353.2" y2="932.8" stroke="#ff0000" stroke-width="1.9" stroke-dasharray="22.5,14"/>
<line x1="334.6" y1="789.6" x2="371.8" y2="789.6" stroke="#ff0000" stroke-width="1.9"/>
<line x1="334.6" y1="971.3" x2="371.8" y2="971.3" stroke="#ff0000" stroke-width="1.9"/>
<circle cx="207.6" cy="713.0" r="7.4" fill="#ff0000" fill-opacity="0.5" stroke="#000" stroke-width="1.6"/>
<circle cx="348.2" cy="919.5" r="7.4" fill="#ff0000" fill-opacity="0.5" stroke="#000" stroke-width="1.6"/>
<circle cx="206.6" cy="753.5" r="7.4" fill="#ff0000" fill-opacity="0.5" stroke="#000" stroke-width="1.6"/>
<circle cx="351.2" cy="822.8" r="7.4" fill="#ff0000" fill-opacity="0.5" stroke="#000" stroke-width="1.6"/>
<circle cx="201.8" cy="764.2" r="7.4" fill="#ff0000" fill-opacity="0.5" stroke="#000" stroke-width="1.6"/>
<circle cx="347.3" cy="820.9" r="7.4" fill="#ff0000" fill-opacity="0.5" stroke="#000" stroke-width="1.6"/>
<circle cx="196.9" cy="781.8" r="7.4" fill="#ff0000" fill-opacity="0.5" stroke="#000" stroke-width="1.6"/>
<circle cx="357.4" cy="789.6" r="7.4" fill="#ff0000" fill-opacity="0.5" stroke="#000" stroke-width="1.6"/>
<circle cx="203.1" cy="797.0" r="7.4" fill="#ff0000" fill-opacity="0.5" stroke="#000" stroke-width="1.6"/>
<circle cx="360.0" cy="865.8" r="7.4" fill="#ff0000" fill-opacity="0.5" stroke="#000" stroke-width="1.6"/>
<circle cx="197.5" cy="803.3" r="7.4" fill="#ff0000" fill-opacity="0.5" stroke="#000" stroke-width="1.6"/>
<circle cx="355.1" cy="912.7" r="7.4" fill="#ff0000" fill-opacity="0.5" stroke="#000" stroke-width="1.6"/>
<circle cx="203.7" cy="823.8" r="7.4" fill="#ff0000" fill-opacity="0.5" stroke="#000" stroke-width="1.6"/>
<circle cx="348.8" cy="865.8" r="7.4" fill="#ff0000" fill-opacity="0.5" stroke="#000" stroke-width="1.6"/>
<circle cx="204.7" cy="877.5" r="7.4" fill="#ff0000" fill-opacity="0.5" stroke="#000" stroke-width="1.6"/>
<circle cx="351.2" cy="900.0" r="7.4" fill="#ff0000" fill-opacity="0.5" stroke="#000" stroke-width="1.6"/>
<circle cx="198.8" cy="882.4" r="7.4" fill="#ff0000" fill-opacity="0.5" stroke="#000" stroke-width="1.6"/>
<circle cx="351.2" cy="937.1" r="7.4" fill="#ff0000" fill-opacity="0.5" stroke="#000" stroke-width="1.6"/>
<circle cx="204.3" cy="910.7" r="7.4" fill="#ff0000" fill-opacity="0.5" stroke="#000" stroke-width="1.6"/>
<circle cx="357.0" cy="944.9" r="7.4" fill="#ff0000" fill-opacity="0.5" stroke="#000" stroke-width="1.6"/>
<circle cx="210.5" cy="928.3" r="7.4" fill="#ff0000" fill-opacity="0.5" stroke="#000" stroke-width="1.6"/>
<circle cx="347.7" cy="927.3" r="7.4" fill="#ff0000" fill-opacity="0.5" stroke="#000" stroke-width="1.6"/>
<circle cx="210.5" cy="971.3" r="7.4" fill="#ff0000" fill-opacity="0.5" stroke="#000" stroke-width="1.6"/>
<circle cx="360.0" cy="971.3" r="7.4" fill="#ff0000" fill-opacity="0.5" stroke="#000" stroke-width="1.6"/>
<line x1="207.6" y1="713.0" x2="348.2" y2="919.5" stroke="#858585" stroke-width="1.4"/>
<line x1="206.6" y1="753.5" x2="351.2" y2="822.8" stroke="#858585" stroke-width="1.4"/>
<line x1="201.8" y1="764.2" x2="347.3" y2="820.9" stroke="#858585" stroke-width="1.4"/>
<line x1="196.9" y1="781.8" x2="357.4" y2="789.6" stroke="#858585" stroke-width="1.4"/>
<line x1="203.1" y1="797.0" x2="360.0" y2="865.8" stroke="#858585" stroke-width="1.4"/>
<line x1="197.5" y1="803.3" x2="355.1" y2="912.7" stroke="#858585" stroke-width="1.4"/>
<line x1="203.7" y1="823.8" x2="348.8" y2="865.8" stroke="#858585" stroke-width="1.4"/>
<line x1="204.7" y1="877.5" x2="351.2" y2="900.0" stroke="#858585" stroke-width="1.4"/>
<line x1="198.8" y1="882.4" x2="351.2" y2="937.1" stroke="#858585" stroke-width="1.4"/>
<line x1="204.3" y1="910.7" x2="357.0" y2="944.9" stroke="#858585" stroke-width="1.4"/>
<line x1="210.5" y1="928.3" x2="347.7" y2="927.3" stroke="#858585" stroke-width="1.4"/>
<line x1="210.5" y1="971.3" x2="360.0" y2="971.3" stroke="#858585" stroke-width="1.4"/>
<line x1="248.9" y1="754.8" x2="248.9" y2="912.7" stroke="#ff0000" stroke-width="6"/>
<line x1="221.8" y1="754.8" x2="276.0" y2="754.8" stroke="#ff0000" stroke-width="6"/>
<line x1="221.8" y1="912.7" x2="276.0" y2="912.7" stroke="#ff0000" stroke-width="6"/>
<line x1="308.4" y1="833.6" x2="308.4" y2="946.4" stroke="#ff0000" stroke-width="6"/>
<line x1="281.3" y1="833.6" x2="335.5" y2="833.6" stroke="#ff0000" stroke-width="6"/>
<line x1="281.3" y1="946.4" x2="335.5" y2="946.4" stroke="#ff0000" stroke-width="6"/>
<path d="M248.9 820.2L259.6 834.1L248.9 848.0L238.2 834.1Z" fill="#fff" stroke="#ff0000" stroke-width="5.9"/>
<path d="M308.4 875.7L319.1 889.6L308.4 903.5L297.7 889.6Z" fill="#fff" stroke="#ff0000" stroke-width="5.9"/>
<line x1="248.9" y1="834.1" x2="308.4" y2="889.6" stroke="#ff0000" stroke-width="6"/>
<rect x="465.0" y="800.9" width="74.6" height="72.6" fill="none" stroke="#0000ff" stroke-width="1.9" stroke-linejoin="round"/>
<line x1="465.0" y1="849.5" x2="539.6" y2="849.5" stroke="#0000ff" stroke-width="1.9"/>
<line x1="502.3" y1="800.9" x2="502.3" y2="726.7" stroke="#0000ff" stroke-width="1.9" stroke-dasharray="22.5,14"/>
<line x1="502.3" y1="970.9" x2="502.3" y2="873.5" stroke="#0000ff" stroke-width="1.9" stroke-dasharray="22.5,14"/>
<line x1="483.7" y1="726.7" x2="520.9" y2="726.7" stroke="#0000ff" stroke-width="1.9"/>
<line x1="483.7" y1="970.9" x2="520.9" y2="970.9" stroke="#0000ff" stroke-width="1.9"/>
<rect x="614.1" y="865.5" width="74.6" height="71.5" fill="none" stroke="#0000ff" stroke-width="1.9" stroke-linejoin="round"/>
<line x1="614.1" y1="925.5" x2="688.7" y2="925.5" stroke="#0000ff" stroke-width="1.9"/>
<line x1="651.4" y1="865.5" x2="651.4" y2="798.8" stroke="#0000ff" stroke-width="1.9" stroke-dasharray="22.5,14"/>
<line x1="651.4" y1="953.5" x2="651.4" y2="937.0" stroke="#0000ff" stroke-width="1.9" stroke-dasharray="22.5,14"/>
<line x1="632.8" y1="798.8" x2="670.0" y2="798.8" stroke="#0000ff" stroke-width="1.9"/>
<line x1="632.8" y1="953.5" x2="670.0" y2="953.5" stroke="#0000ff" stroke-width="1.9"/>
<circle cx="496.4" cy="598.7" r="7.4" fill="#0000ff" fill-opacity="0.5" stroke="#000" stroke-width="1.6"/>
<circle cx="643.9" cy="798.8" r="7.4" fill="#0000ff" fill-opacity="0.5" stroke="#000" stroke-width="1.6"/>
<circle cx="505.7" cy="726.7" r="7.4" fill="#0000ff" fill-opacity="0.5" stroke="#000" stroke-width="1.6"/>
<circle cx="647.6" cy="842.8" r="7.4" fill="#0000ff" fill-opacity="0.5" stroke="#000" stroke-width="1.6"/>
<circle cx="503.6" cy="756.6" r="7.4" fill="#0000ff" fill-opacity="0.5" stroke="#000" stroke-width="1.6"/>
<circle cx="656.4" cy="929.5" r="7.4" fill="#0000ff" fill-opacity="0.5" stroke="#000" stroke-width="1.6"/>
<circle cx="493.7" cy="802.0" r="7.4" fill="#0000ff" fill-opacity="0.5" stroke="#000" stroke-width="1.6"/>
<circle cx="655.6" cy="950.9" r="7.4" fill="#0000ff" fill-opacity="0.5" stroke="#000" stroke-width="1.6"/>
<circle cx="507.8" cy="798.8" r="7.4" fill="#0000ff" fill-opacity="0.5" stroke="#000" stroke-width="1.6"/>
<circle cx="645.8" cy="822.3" r="7.4" fill="#0000ff" fill-opacity="0.5" stroke="#000" stroke-width="1.6"/>
<circle cx="503.0" cy="808.9" r="7.4" fill="#0000ff" fill-opacity="0.5" stroke="#000" stroke-width="1.6"/>
<circle cx="656.4" cy="953.5" r="7.4" fill="#0000ff" fill-opacity="0.5" stroke="#000" stroke-width="1.6"/>
<circle cx="501.7" cy="840.9" r="7.4" fill="#0000ff" fill-opacity="0.5" stroke="#000" stroke-width="1.6"/>
<circle cx="646.6" cy="856.9" r="7.4" fill="#0000ff" fill-opacity="0.5" stroke="#000" stroke-width="1.6"/>
<circle cx="505.7" cy="842.8" r="7.4" fill="#0000ff" fill-opacity="0.5" stroke="#000" stroke-width="1.6"/>
<circle cx="649.2" cy="873.5" r="7.4" fill="#0000ff" fill-opacity="0.5" stroke="#000" stroke-width="1.6"/>
<circle cx="501.7" cy="854.8" r="7.4" fill="#0000ff" fill-opacity="0.5" stroke="#000" stroke-width="1.6"/>
<circle cx="656.4" cy="885.5" r="7.4" fill="#0000ff" fill-opacity="0.5" stroke="#000" stroke-width="1.6"/>
<circle cx="495.0" cy="865.5" r="7.4" fill="#0000ff" fill-opacity="0.5" stroke="#000" stroke-width="1.6"/>
<circle cx="649.8" cy="894.3" r="7.4" fill="#0000ff" fill-opacity="0.5" stroke="#000" stroke-width="1.6"/>
<circle cx="507.8" cy="868.2" r="7.4" fill="#0000ff" fill-opacity="0.5" stroke="#000" stroke-width="1.6"/>
<circle cx="653.8" cy="938.9" r="7.4" fill="#0000ff" fill-opacity="0.5" stroke="#000" stroke-width="1.6"/>
<circle cx="496.4" cy="878.8" r="7.4" fill="#0000ff" fill-opacity="0.5" stroke="#000" stroke-width="1.6"/>
<circle cx="647.1" cy="920.2" r="7.4" fill="#0000ff" fill-opacity="0.5" stroke="#000" stroke-width="1.6"/>
<circle cx="503.6" cy="896.2" r="7.4" fill="#0000ff" fill-opacity="0.5" stroke="#000" stroke-width="1.6"/>
<circle cx="650.0" cy="925.0" r="7.4" fill="#0000ff" fill-opacity="0.5" stroke="#000" stroke-width="1.6"/>
<circle cx="502.5" cy="919.4" r="7.4" fill="#0000ff" fill-opacity="0.5" stroke="#000" stroke-width="1.6"/>
<circle cx="654.0" cy="936.0" r="7.4" fill="#0000ff" fill-opacity="0.5" stroke="#000" stroke-width="1.6"/>
<circle cx="507.0" cy="970.9" r="7.4" fill="#0000ff" fill-opacity="0.5" stroke="#000" stroke-width="1.6"/>
<circle cx="652.4" cy="934.9" r="7.4" fill="#0000ff" fill-opacity="0.5" stroke="#000" stroke-width="1.6"/>
<circle cx="503.4" cy="855.5" r="7.4" fill="#0000ff" fill-opacity="0.5" stroke="#000" stroke-width="1.6"/>
<line x1="496.4" y1="598.7" x2="643.9" y2="798.8" stroke="#858585" stroke-width="1.4"/>
<line x1="505.7" y1="726.7" x2="647.6" y2="842.8" stroke="#858585" stroke-width="1.4"/>
<line x1="503.6" y1="756.6" x2="656.4" y2="929.5" stroke="#858585" stroke-width="1.4"/>
<line x1="493.7" y1="802.0" x2="655.6" y2="950.9" stroke="#858585" stroke-width="1.4"/>
<line x1="507.8" y1="798.8" x2="645.8" y2="822.3" stroke="#858585" stroke-width="1.4"/>
<line x1="503.0" y1="808.9" x2="656.4" y2="953.5" stroke="#858585" stroke-width="1.4"/>
<line x1="501.7" y1="840.9" x2="646.6" y2="856.9" stroke="#858585" stroke-width="1.4"/>
<line x1="505.7" y1="842.8" x2="649.2" y2="873.5" stroke="#858585" stroke-width="1.4"/>
<line x1="501.7" y1="854.8" x2="656.4" y2="885.5" stroke="#858585" stroke-width="1.4"/>
<line x1="495.0" y1="865.5" x2="649.8" y2="894.3" stroke="#858585" stroke-width="1.4"/>
<line x1="507.8" y1="868.2" x2="653.8" y2="938.9" stroke="#858585" stroke-width="1.4"/>
<line x1="496.4" y1="878.8" x2="647.1" y2="920.2" stroke="#858585" stroke-width="1.4"/>
<line x1="503.6" y1="896.2" x2="650.0" y2="925.0" stroke="#858585" stroke-width="1.4"/>
<line x1="502.5" y1="919.4" x2="654.0" y2="936.0" stroke="#858585" stroke-width="1.4"/>
<line x1="507.0" y1="970.9" x2="652.4" y2="934.9" stroke="#858585" stroke-width="1.4"/>
<line x1="503.4" y1="855.5" x2="650.0" y2="925.0" stroke="#858585" stroke-width="1.4"/>
<line x1="547.1" y1="744.6" x2="547.1" y2="916.7" stroke="#0000ff" stroke-width="6"/>
<line x1="520.0" y1="744.6" x2="574.2" y2="744.6" stroke="#0000ff" stroke-width="6"/>
<line x1="520.0" y1="916.7" x2="574.2" y2="916.7" stroke="#0000ff" stroke-width="6"/>
<line x1="606.6" y1="852.1" x2="606.6" y2="949.5" stroke="#0000ff" stroke-width="6"/>
<line x1="579.5" y1="852.1" x2="633.7" y2="852.1" stroke="#0000ff" stroke-width="6"/>
<line x1="579.5" y1="949.5" x2="633.7" y2="949.5" stroke="#0000ff" stroke-width="6"/>
<path d="M547.1 816.9L557.8 830.8L547.1 844.7L536.4 830.8Z" fill="#fff" stroke="#0000ff" stroke-width="5.9"/>
<path d="M606.6 886.3L617.3 900.2L606.6 914.1L595.9 900.2Z" fill="#fff" stroke="#0000ff" stroke-width="5.9"/>
<line x1="547.1" y1="830.8" x2="606.6" y2="900.2" stroke="#0000ff" stroke-width="6"/>
<rect x="129.5" y="574.8" width="596.5" height="416.9" fill="none" stroke="#000" stroke-width="1.8"/>
<line x1="129.5" y1="991.7" x2="135.9" y2="991.7" stroke="#000" stroke-width="1.8"/>
<line x1="726.0" y1="991.7" x2="719.6" y2="991.7" stroke="#000" stroke-width="1.8"/>
<text x="115.9" y="1004.5" text-anchor="end" class="tl">0.2</text>
<line x1="129.5" y1="915.9" x2="135.9" y2="915.9" stroke="#000" stroke-width="1.8"/>
<line x1="726.0" y1="915.9" x2="719.6" y2="915.9" stroke="#000" stroke-width="1.8"/>
<text x="115.9" y="928.7" text-anchor="end" class="tl">0.4</text>
<line x1="129.5" y1="840.1" x2="135.9" y2="840.1" stroke="#000" stroke-width="1.8"/>
<line x1="726.0" y1="840.1" x2="719.6" y2="840.1" stroke="#000" stroke-width="1.8"/>
<text x="115.9" y="852.9" text-anchor="end" class="tl">0.6</text>
<line x1="129.5" y1="764.3" x2="135.9" y2="764.3" stroke="#000" stroke-width="1.8"/>
<line x1="726.0" y1="764.3" x2="719.6" y2="764.3" stroke="#000" stroke-width="1.8"/>
<text x="115.9" y="777.1" text-anchor="end" class="tl">0.8</text>
<line x1="129.5" y1="688.5" x2="135.9" y2="688.5" stroke="#000" stroke-width="1.8"/>
<line x1="726.0" y1="688.5" x2="719.6" y2="688.5" stroke="#000" stroke-width="1.8"/>
<text x="115.9" y="701.3" text-anchor="end" class="tl">1</text>
<line x1="129.5" y1="612.7" x2="135.9" y2="612.7" stroke="#000" stroke-width="1.8"/>
<line x1="726.0" y1="612.7" x2="719.6" y2="612.7" stroke="#000" stroke-width="1.8"/>
<text x="115.9" y="625.5" text-anchor="end" class="tl">1.2</text>
<line x1="204.1" y1="991.7" x2="204.1" y2="985.3" stroke="#000" stroke-width="1.8"/>
<line x1="204.1" y1="574.8" x2="204.1" y2="581.2" stroke="#000" stroke-width="1.8"/>
<line x1="353.2" y1="991.7" x2="353.2" y2="985.3" stroke="#000" stroke-width="1.8"/>
<line x1="353.2" y1="574.8" x2="353.2" y2="581.2" stroke="#000" stroke-width="1.8"/>
<line x1="502.3" y1="991.7" x2="502.3" y2="985.3" stroke="#000" stroke-width="1.8"/>
<line x1="502.3" y1="574.8" x2="502.3" y2="581.2" stroke="#000" stroke-width="1.8"/>
<line x1="651.4" y1="991.7" x2="651.4" y2="985.3" stroke="#000" stroke-width="1.8"/>
<line x1="651.4" y1="574.8" x2="651.4" y2="581.2" stroke="#000" stroke-width="1.8"/>
<text x="140.6" y="563.5" class="pl">C</text>
<text x="185.6" y="564.2" class="tl">SS/EC</text>
<rect x="849.3" y="801.5" width="74.6" height="126.2" fill="none" stroke="#ff0000" stroke-width="1.9" stroke-linejoin="round"/>
<line x1="849.3" y1="871.5" x2="923.9" y2="871.5" stroke="#ff0000" stroke-width="1.9"/>
<line x1="886.6" y1="801.5" x2="886.6" y2="700.1" stroke="#ff0000" stroke-width="1.9" stroke-dasharray="22.5,14"/>
<line x1="886.6" y1="971.8" x2="886.6" y2="927.7" stroke="#ff0000" stroke-width="1.9" stroke-dasharray="22.5,14"/>
<line x1="868.0" y1="700.1" x2="905.2" y2="700.1" stroke="#ff0000" stroke-width="1.9"/>
<line x1="868.0" y1="971.8" x2="905.2" y2="971.8" stroke="#ff0000" stroke-width="1.9"/>
<rect x="998.4" y="852.8" width="74.6" height="101.1" fill="none" stroke="#ff0000" stroke-width="1.9" stroke-linejoin="round"/>
<line x1="998.4" y1="923.6" x2="1073.0" y2="923.6" stroke="#ff0000" stroke-width="1.9"/>
<line x1="1035.7" y1="852.8" x2="1035.7" y2="783.6" stroke="#ff0000" stroke-width="1.9" stroke-dasharray="22.5,14"/>
<line x1="1035.7" y1="972.8" x2="1035.7" y2="953.9" stroke="#ff0000" stroke-width="1.9" stroke-dasharray="22.5,14"/>
<line x1="1017.1" y1="783.6" x2="1054.3" y2="783.6" stroke="#ff0000" stroke-width="1.9"/>
<line x1="1017.1" y1="972.8" x2="1054.3" y2="972.8" stroke="#ff0000" stroke-width="1.9"/>
<circle cx="885.0" cy="589.9" r="7.4" fill="#ff0000" fill-opacity="0.5" stroke="#000" stroke-width="1.6"/>
<circle cx="1034.5" cy="827.7" r="7.4" fill="#ff0000" fill-opacity="0.5" stroke="#000" stroke-width="1.6"/>
<circle cx="886.9" cy="699.9" r="7.4" fill="#ff0000" fill-opacity="0.5" stroke="#000" stroke-width="1.6"/>
<circle cx="1033.6" cy="840.4" r="7.4" fill="#ff0000" fill-opacity="0.5" stroke="#000" stroke-width="1.6"/>
<circle cx="879.6" cy="791.8" r="7.4" fill="#ff0000" fill-opacity="0.5" stroke="#000" stroke-width="1.6"/>
<circle cx="1035.8" cy="865.5" r="7.4" fill="#ff0000" fill-opacity="0.5" stroke="#000" stroke-width="1.6"/>
<circle cx="883.6" cy="810.1" r="7.4" fill="#ff0000" fill-opacity="0.5" stroke="#000" stroke-width="1.6"/>
<circle cx="1043.6" cy="966.4" r="7.4" fill="#ff0000" fill-opacity="0.5" stroke="#000" stroke-width="1.6"/>
<circle cx="892.3" cy="822.3" r="7.4" fill="#ff0000" fill-opacity="0.5" stroke="#000" stroke-width="1.6"/>
<circle cx="1029.1" cy="783.6" r="7.4" fill="#ff0000" fill-opacity="0.5" stroke="#000" stroke-width="1.6"/>
<circle cx="892.3" cy="867.4" r="7.4" fill="#ff0000" fill-opacity="0.5" stroke="#000" stroke-width="1.6"/>
<circle cx="1029.1" cy="904.2" r="7.4" fill="#ff0000" fill-opacity="0.5" stroke="#000" stroke-width="1.6"/>
<circle cx="886.4" cy="874.5" r="7.4" fill="#ff0000" fill-opacity="0.5" stroke="#000" stroke-width="1.6"/>
<circle cx="1037.7" cy="922.3" r="7.4" fill="#ff0000" fill-opacity="0.5" stroke="#000" stroke-width="1.6"/>
<circle cx="883.6" cy="906.1" r="7.4" fill="#ff0000" fill-opacity="0.5" stroke="#000" stroke-width="1.6"/>
<circle cx="1042.6" cy="947.4" r="7.4" fill="#ff0000" fill-opacity="0.5" stroke="#000" stroke-width="1.6"/>
<circle cx="888.2" cy="913.4" r="7.4" fill="#ff0000" fill-opacity="0.5" stroke="#000" stroke-width="1.6"/>
<circle cx="1034.5" cy="942.6" r="7.4" fill="#ff0000" fill-opacity="0.5" stroke="#000" stroke-width="1.6"/>
<circle cx="891.0" cy="942.6" r="7.4" fill="#ff0000" fill-opacity="0.5" stroke="#000" stroke-width="1.6"/>
<circle cx="1039.9" cy="960.9" r="7.4" fill="#ff0000" fill-opacity="0.5" stroke="#000" stroke-width="1.6"/>
<circle cx="881.5" cy="952.0" r="7.4" fill="#ff0000" fill-opacity="0.5" stroke="#000" stroke-width="1.6"/>
<circle cx="1031.8" cy="924.5" r="7.4" fill="#ff0000" fill-opacity="0.5" stroke="#000" stroke-width="1.6"/>
<circle cx="881.5" cy="971.8" r="7.4" fill="#ff0000" fill-opacity="0.5" stroke="#000" stroke-width="1.6"/>
<circle cx="1032.8" cy="972.8" r="7.4" fill="#ff0000" fill-opacity="0.5" stroke="#000" stroke-width="1.6"/>
<line x1="885.0" y1="589.9" x2="1034.5" y2="827.7" stroke="#858585" stroke-width="1.4"/>
<line x1="886.9" y1="699.9" x2="1033.6" y2="840.4" stroke="#858585" stroke-width="1.4"/>
<line x1="879.6" y1="791.8" x2="1035.8" y2="865.5" stroke="#858585" stroke-width="1.4"/>
<line x1="883.6" y1="810.1" x2="1043.6" y2="966.4" stroke="#858585" stroke-width="1.4"/>
<line x1="892.3" y1="822.3" x2="1029.1" y2="783.6" stroke="#858585" stroke-width="1.4"/>
<line x1="892.3" y1="867.4" x2="1029.1" y2="904.2" stroke="#858585" stroke-width="1.4"/>
<line x1="886.4" y1="874.5" x2="1037.7" y2="922.3" stroke="#858585" stroke-width="1.4"/>
<line x1="883.6" y1="906.1" x2="1042.6" y2="947.4" stroke="#858585" stroke-width="1.4"/>
<line x1="888.2" y1="913.4" x2="1034.5" y2="942.6" stroke="#858585" stroke-width="1.4"/>
<line x1="891.0" y1="942.6" x2="1039.9" y2="960.9" stroke="#858585" stroke-width="1.4"/>
<line x1="881.5" y1="952.0" x2="1031.8" y2="924.5" stroke="#858585" stroke-width="1.4"/>
<line x1="881.5" y1="971.8" x2="1032.8" y2="972.8" stroke="#858585" stroke-width="1.4"/>
<line x1="931.4" y1="733.6" x2="931.4" y2="956.9" stroke="#ff0000" stroke-width="6"/>
<line x1="904.3" y1="733.6" x2="958.5" y2="733.6" stroke="#ff0000" stroke-width="6"/>
<line x1="904.3" y1="956.9" x2="958.5" y2="956.9" stroke="#ff0000" stroke-width="6"/>
<line x1="990.9" y1="843.4" x2="990.9" y2="966.9" stroke="#ff0000" stroke-width="6"/>
<line x1="963.8" y1="843.4" x2="1018.0" y2="843.4" stroke="#ff0000" stroke-width="6"/>
<line x1="963.8" y1="966.9" x2="1018.0" y2="966.9" stroke="#ff0000" stroke-width="6"/>
<path d="M931.4 831.4L942.1 845.3L931.4 859.2L920.7 845.3Z" fill="#fff" stroke="#ff0000" stroke-width="5.9"/>
<path d="M990.9 890.8L1001.6 904.7L990.9 918.6L980.2 904.7Z" fill="#fff" stroke="#ff0000" stroke-width="5.9"/>
<line x1="931.4" y1="845.3" x2="990.9" y2="904.7" stroke="#ff0000" stroke-width="6"/>
<rect x="1147.5" y="804.4" width="74.6" height="99.1" fill="none" stroke="#0000ff" stroke-width="1.9" stroke-linejoin="round"/>
<line x1="1147.5" y1="881.4" x2="1222.1" y2="881.4" stroke="#0000ff" stroke-width="1.9"/>
<line x1="1184.8" y1="804.4" x2="1184.8" y2="666.5" stroke="#0000ff" stroke-width="1.9" stroke-dasharray="22.5,14"/>
<line x1="1184.8" y1="972.0" x2="1184.8" y2="903.5" stroke="#0000ff" stroke-width="1.9" stroke-dasharray="22.5,14"/>
<line x1="1166.2" y1="666.5" x2="1203.4" y2="666.5" stroke="#0000ff" stroke-width="1.9"/>
<line x1="1166.2" y1="972.0" x2="1203.4" y2="972.0" stroke="#0000ff" stroke-width="1.9"/>
<rect x="1296.6" y="875.0" width="74.6" height="79.7" fill="none" stroke="#0000ff" stroke-width="1.9" stroke-linejoin="round"/>
<line x1="1296.6" y1="930.1" x2="1371.2" y2="930.1" stroke="#0000ff" stroke-width="1.9"/>
<line x1="1333.9" y1="875.0" x2="1333.9" y2="793.5" stroke="#0000ff" stroke-width="1.9" stroke-dasharray="22.5,14"/>
<line x1="1333.9" y1="970.0" x2="1333.9" y2="954.7" stroke="#0000ff" stroke-width="1.9" stroke-dasharray="22.5,14"/>
<line x1="1315.3" y1="793.5" x2="1352.5" y2="793.5" stroke="#0000ff" stroke-width="1.9"/>
<line x1="1315.3" y1="970.0" x2="1352.5" y2="970.0" stroke="#0000ff" stroke-width="1.9"/>
<circle cx="1184.5" cy="625.9" r="7.4" fill="#0000ff" fill-opacity="0.5" stroke="#000" stroke-width="1.6"/>
<circle cx="1333.1" cy="923.8" r="7.4" fill="#0000ff" fill-opacity="0.5" stroke="#000" stroke-width="1.6"/>
<circle cx="1185.3" cy="666.5" r="7.4" fill="#0000ff" fill-opacity="0.5" stroke="#000" stroke-width="1.6"/>
<circle cx="1330.0" cy="843.8" r="7.4" fill="#0000ff" fill-opacity="0.5" stroke="#000" stroke-width="1.6"/>
<circle cx="1178.2" cy="793.0" r="7.4" fill="#0000ff" fill-opacity="0.5" stroke="#000" stroke-width="1.6"/>
<circle cx="1339.4" cy="793.5" r="7.4" fill="#0000ff" fill-opacity="0.5" stroke="#000" stroke-width="1.6"/>
<circle cx="1179.4" cy="799.3" r="7.4" fill="#0000ff" fill-opacity="0.5" stroke="#000" stroke-width="1.6"/>
<circle cx="1338.2" cy="906.8" r="7.4" fill="#0000ff" fill-opacity="0.5" stroke="#000" stroke-width="1.6"/>
<circle cx="1187.8" cy="810.3" r="7.4" fill="#0000ff" fill-opacity="0.5" stroke="#000" stroke-width="1.6"/>
<circle cx="1338.2" cy="823.5" r="7.4" fill="#0000ff" fill-opacity="0.5" stroke="#000" stroke-width="1.6"/>
<circle cx="1182.7" cy="843.3" r="7.4" fill="#0000ff" fill-opacity="0.5" stroke="#000" stroke-width="1.6"/>
<circle cx="1333.1" cy="953.0" r="7.4" fill="#0000ff" fill-opacity="0.5" stroke="#000" stroke-width="1.6"/>
<circle cx="1191.4" cy="874.2" r="7.4" fill="#0000ff" fill-opacity="0.5" stroke="#000" stroke-width="1.6"/>
<circle cx="1328.5" cy="931.4" r="7.4" fill="#0000ff" fill-opacity="0.5" stroke="#000" stroke-width="1.6"/>
<circle cx="1190.9" cy="880.6" r="7.4" fill="#0000ff" fill-opacity="0.5" stroke="#000" stroke-width="1.6"/>
<circle cx="1328.0" cy="968.2" r="7.4" fill="#0000ff" fill-opacity="0.5" stroke="#000" stroke-width="1.6"/>
<circle cx="1180.7" cy="892.0" r="7.4" fill="#0000ff" fill-opacity="0.5" stroke="#000" stroke-width="1.6"/>
<circle cx="1336.4" cy="874.8" r="7.4" fill="#0000ff" fill-opacity="0.5" stroke="#000" stroke-width="1.6"/>
<circle cx="1179.4" cy="902.2" r="7.4" fill="#0000ff" fill-opacity="0.5" stroke="#000" stroke-width="1.6"/>
<circle cx="1334.3" cy="935.2" r="7.4" fill="#0000ff" fill-opacity="0.5" stroke="#000" stroke-width="1.6"/>
<circle cx="1180.7" cy="903.5" r="7.4" fill="#0000ff" fill-opacity="0.5" stroke="#000" stroke-width="1.6"/>
<circle cx="1338.2" cy="968.2" r="7.4" fill="#0000ff" fill-opacity="0.5" stroke="#000" stroke-width="1.6"/>
<circle cx="1187.1" cy="914.9" r="7.4" fill="#0000ff" fill-opacity="0.5" stroke="#000" stroke-width="1.6"/>
<circle cx="1336.0" cy="928.0" r="7.4" fill="#0000ff" fill-opacity="0.5" stroke="#000" stroke-width="1.6"/>
<circle cx="1178.7" cy="925.5" r="7.4" fill="#0000ff" fill-opacity="0.5" stroke="#000" stroke-width="1.6"/>
<circle cx="1331.0" cy="950.0" r="7.4" fill="#0000ff" fill-opacity="0.5" stroke="#000" stroke-width="1.6"/>
<circle cx="1190.4" cy="972.0" r="7.4" fill="#0000ff" fill-opacity="0.5" stroke="#000" stroke-width="1.6"/>
<circle cx="1329.3" cy="956.8" r="7.4" fill="#0000ff" fill-opacity="0.5" stroke="#000" stroke-width="1.6"/>
<circle cx="1191.3" cy="883.5" r="7.4" fill="#0000ff" fill-opacity="0.5" stroke="#000" stroke-width="1.6"/>
<circle cx="1179.5" cy="903.0" r="7.4" fill="#0000ff" fill-opacity="0.5" stroke="#000" stroke-width="1.6"/>
<line x1="1184.5" y1="625.9" x2="1333.1" y2="923.8" stroke="#858585" stroke-width="1.4"/>
<line x1="1185.3" y1="666.5" x2="1330.0" y2="843.8" stroke="#858585" stroke-width="1.4"/>
<line x1="1178.2" y1="793.0" x2="1339.4" y2="793.5" stroke="#858585" stroke-width="1.4"/>
<line x1="1179.4" y1="799.3" x2="1338.2" y2="906.8" stroke="#858585" stroke-width="1.4"/>
<line x1="1187.8" y1="810.3" x2="1338.2" y2="823.5" stroke="#858585" stroke-width="1.4"/>
<line x1="1182.7" y1="843.3" x2="1333.1" y2="953.0" stroke="#858585" stroke-width="1.4"/>
<line x1="1191.4" y1="874.2" x2="1328.5" y2="931.4" stroke="#858585" stroke-width="1.4"/>
<line x1="1190.9" y1="880.6" x2="1328.0" y2="968.2" stroke="#858585" stroke-width="1.4"/>
<line x1="1180.7" y1="892.0" x2="1336.4" y2="874.8" stroke="#858585" stroke-width="1.4"/>
<line x1="1179.4" y1="902.2" x2="1334.3" y2="935.2" stroke="#858585" stroke-width="1.4"/>
<line x1="1180.7" y1="903.5" x2="1338.2" y2="968.2" stroke="#858585" stroke-width="1.4"/>
<line x1="1187.1" y1="914.9" x2="1336.0" y2="928.0" stroke="#858585" stroke-width="1.4"/>
<line x1="1178.7" y1="925.5" x2="1331.0" y2="950.0" stroke="#858585" stroke-width="1.4"/>
<line x1="1190.4" y1="972.0" x2="1329.3" y2="956.8" stroke="#858585" stroke-width="1.4"/>
<line x1="1191.3" y1="883.5" x2="1333.1" y2="953.0" stroke="#858585" stroke-width="1.4"/>
<line x1="1179.5" y1="903.0" x2="1329.3" y2="956.8" stroke="#858585" stroke-width="1.4"/>
<line x1="1229.6" y1="756.9" x2="1229.6" y2="942.3" stroke="#0000ff" stroke-width="6"/>
<line x1="1202.5" y1="756.9" x2="1256.7" y2="756.9" stroke="#0000ff" stroke-width="6"/>
<line x1="1202.5" y1="942.3" x2="1256.7" y2="942.3" stroke="#0000ff" stroke-width="6"/>
<line x1="1289.1" y1="857.7" x2="1289.1" y2="968.2" stroke="#0000ff" stroke-width="6"/>
<line x1="1262.0" y1="857.7" x2="1316.2" y2="857.7" stroke="#0000ff" stroke-width="6"/>
<line x1="1262.0" y1="968.2" x2="1316.2" y2="968.2" stroke="#0000ff" stroke-width="6"/>
<path d="M1229.6 835.7L1240.3 849.6L1229.6 863.5L1218.9 849.6Z" fill="#fff" stroke="#0000ff" stroke-width="5.9"/>
<path d="M1289.1 897.9L1299.8 911.8L1289.1 925.7L1278.4 911.8Z" fill="#fff" stroke="#0000ff" stroke-width="5.9"/>
<line x1="1229.6" y1="849.6" x2="1289.1" y2="911.8" stroke="#0000ff" stroke-width="6"/>
<rect x="812.0" y="575.0" width="596.0" height="416.7" fill="none" stroke="#000" stroke-width="1.8"/>
<line x1="812.0" y1="991.7" x2="818.4" y2="991.7" stroke="#000" stroke-width="1.8"/>
<line x1="1408.0" y1="991.7" x2="1401.6" y2="991.7" stroke="#000" stroke-width="1.8"/>
<text x="798.4" y="1004.5" text-anchor="end" class="tl">0.2</text>
<line x1="812.0" y1="915.9" x2="818.4" y2="915.9" stroke="#000" stroke-width="1.8"/>
<line x1="1408.0" y1="915.9" x2="1401.6" y2="915.9" stroke="#000" stroke-width="1.8"/>
<text x="798.4" y="928.7" text-anchor="end" class="tl">0.4</text>
<line x1="812.0" y1="840.1" x2="818.4" y2="840.1" stroke="#000" stroke-width="1.8"/>
<line x1="1408.0" y1="840.1" x2="1401.6" y2="840.1" stroke="#000" stroke-width="1.8"/>
<text x="798.4" y="852.9" text-anchor="end" class="tl">0.6</text>
<line x1="812.0" y1="764.3" x2="818.4" y2="764.3" stroke="#000" stroke-width="1.8"/>
<line x1="1408.0" y1="764.3" x2="1401.6" y2="764.3" stroke="#000" stroke-width="1.8"/>
<text x="798.4" y="777.1" text-anchor="end" class="tl">0.8</text>
<line x1="812.0" y1="688.5" x2="818.4" y2="688.5" stroke="#000" stroke-width="1.8"/>
<line x1="1408.0" y1="688.5" x2="1401.6" y2="688.5" stroke="#000" stroke-width="1.8"/>
<text x="798.4" y="701.3" text-anchor="end" class="tl">1</text>
<line x1="812.0" y1="612.7" x2="818.4" y2="612.7" stroke="#000" stroke-width="1.8"/>
<line x1="1408.0" y1="612.7" x2="1401.6" y2="612.7" stroke="#000" stroke-width="1.8"/>
<text x="798.4" y="625.5" text-anchor="end" class="tl">1.2</text>
<line x1="886.6" y1="991.7" x2="886.6" y2="985.3" stroke="#000" stroke-width="1.8"/>
<line x1="886.6" y1="575.0" x2="886.6" y2="581.4" stroke="#000" stroke-width="1.8"/>
<line x1="1035.7" y1="991.7" x2="1035.7" y2="985.3" stroke="#000" stroke-width="1.8"/>
<line x1="1035.7" y1="575.0" x2="1035.7" y2="581.4" stroke="#000" stroke-width="1.8"/>
<line x1="1184.8" y1="991.7" x2="1184.8" y2="985.3" stroke="#000" stroke-width="1.8"/>
<line x1="1184.8" y1="575.0" x2="1184.8" y2="581.4" stroke="#000" stroke-width="1.8"/>
<line x1="1333.9" y1="991.7" x2="1333.9" y2="985.3" stroke="#000" stroke-width="1.8"/>
<line x1="1333.9" y1="575.0" x2="1333.9" y2="581.4" stroke="#000" stroke-width="1.8"/>
<text x="818.2" y="563.5" class="pl">D</text>
<text x="864.2" y="564.6" class="tl">SS+VS/EO</text>
<rect x="166.8" y="1232.6" width="74.6" height="91.0" fill="none" stroke="#ff0000" stroke-width="1.9" stroke-linejoin="round"/>
<line x1="166.8" y1="1292.4" x2="241.4" y2="1292.4" stroke="#ff0000" stroke-width="1.9"/>
<line x1="204.1" y1="1232.6" x2="204.1" y2="1107.0" stroke="#ff0000" stroke-width="1.9" stroke-dasharray="22.5,14"/>
<line x1="204.1" y1="1348.3" x2="204.1" y2="1323.6" stroke="#ff0000" stroke-width="1.9" stroke-dasharray="22.5,14"/>
<line x1="185.5" y1="1107.0" x2="222.7" y2="1107.0" stroke="#ff0000" stroke-width="1.9"/>
<line x1="185.5" y1="1348.3" x2="222.7" y2="1348.3" stroke="#ff0000" stroke-width="1.9"/>
<rect x="315.9" y="1271.8" width="74.6" height="55.2" fill="none" stroke="#ff0000" stroke-width="1.9" stroke-linejoin="round"/>
<line x1="315.9" y1="1309.0" x2="390.5" y2="1309.0" stroke="#ff0000" stroke-width="1.9"/>
<line x1="353.2" y1="1271.8" x2="353.2" y2="1235.4" stroke="#ff0000" stroke-width="1.9" stroke-dasharray="22.5,14"/>
<line x1="353.2" y1="1354.3" x2="353.2" y2="1327.0" stroke="#ff0000" stroke-width="1.9" stroke-dasharray="22.5,14"/>
<line x1="334.6" y1="1235.4" x2="371.8" y2="1235.4" stroke="#ff0000" stroke-width="1.9"/>
<line x1="334.6" y1="1354.3" x2="371.8" y2="1354.3" stroke="#ff0000" stroke-width="1.9"/>
<circle cx="200.6" cy="1107.0" r="7.4" fill="#ff0000" fill-opacity="0.5" stroke="#000" stroke-width="1.6"/>
<circle cx="354.9" cy="1314.7" r="7.4" fill="#ff0000" fill-opacity="0.5" stroke="#000" stroke-width="1.6"/>
<circle cx="206.6" cy="1144.4" r="7.4" fill="#ff0000" fill-opacity="0.5" stroke="#000" stroke-width="1.6"/>
<circle cx="352.0" cy="1324.1" r="7.4" fill="#ff0000" fill-opacity="0.5" stroke="#000" stroke-width="1.6"/>
<circle cx="204.4" cy="1228.2" r="7.4" fill="#ff0000" fill-opacity="0.5" stroke="#000" stroke-width="1.6"/>
<circle cx="355.4" cy="1260.9" r="7.4" fill="#ff0000" fill-opacity="0.5" stroke="#000" stroke-width="1.6"/>
<circle cx="210.4" cy="1236.9" r="7.4" fill="#ff0000" fill-opacity="0.5" stroke="#000" stroke-width="1.6"/>
<circle cx="351.1" cy="1265.6" r="7.4" fill="#ff0000" fill-opacity="0.5" stroke="#000" stroke-width="1.6"/>
<circle cx="208.5" cy="1270.7" r="7.4" fill="#ff0000" fill-opacity="0.5" stroke="#000" stroke-width="1.6"/>
<circle cx="353.0" cy="1306.2" r="7.4" fill="#ff0000" fill-opacity="0.5" stroke="#000" stroke-width="1.6"/>
<circle cx="201.9" cy="1289.2" r="7.4" fill="#ff0000" fill-opacity="0.5" stroke="#000" stroke-width="1.6"/>
<circle cx="346.0" cy="1235.4" r="7.4" fill="#ff0000" fill-opacity="0.5" stroke="#000" stroke-width="1.6"/>
<circle cx="209.5" cy="1294.9" r="7.4" fill="#ff0000" fill-opacity="0.5" stroke="#000" stroke-width="1.6"/>
<circle cx="356.8" cy="1277.3" r="7.4" fill="#ff0000" fill-opacity="0.5" stroke="#000" stroke-width="1.6"/>
<circle cx="208.2" cy="1299.6" r="7.4" fill="#ff0000" fill-opacity="0.5" stroke="#000" stroke-width="1.6"/>
<circle cx="353.9" cy="1289.8" r="7.4" fill="#ff0000" fill-opacity="0.5" stroke="#000" stroke-width="1.6"/>
<circle cx="196.8" cy="1313.4" r="7.4" fill="#ff0000" fill-opacity="0.5" stroke="#000" stroke-width="1.6"/>
<circle cx="348.3" cy="1311.9" r="7.4" fill="#ff0000" fill-opacity="0.5" stroke="#000" stroke-width="1.6"/>
<circle cx="196.8" cy="1333.6" r="7.4" fill="#ff0000" fill-opacity="0.5" stroke="#000" stroke-width="1.6"/>
<circle cx="354.9" cy="1331.3" r="7.4" fill="#ff0000" fill-opacity="0.5" stroke="#000" stroke-width="1.6"/>
<circle cx="203.2" cy="1343.0" r="7.4" fill="#ff0000" fill-opacity="0.5" stroke="#000" stroke-width="1.6"/>
<circle cx="350.2" cy="1343.4" r="7.4" fill="#ff0000" fill-opacity="0.5" stroke="#000" stroke-width="1.6"/>
<circle cx="197.6" cy="1348.3" r="7.4" fill="#ff0000" fill-opacity="0.5" stroke="#000" stroke-width="1.6"/>
<circle cx="357.3" cy="1354.3" r="7.4" fill="#ff0000" fill-opacity="0.5" stroke="#000" stroke-width="1.6"/>
<line x1="200.6" y1="1107.0" x2="354.9" y2="1314.7" stroke="#858585" stroke-width="1.4"/>
<line x1="206.6" y1="1144.4" x2="352.0" y2="1324.1" stroke="#858585" stroke-width="1.4"/>
<line x1="204.4" y1="1228.2" x2="355.4" y2="1260.9" stroke="#858585" stroke-width="1.4"/>
<line x1="210.4" y1="1236.9" x2="351.1" y2="1265.6" stroke="#858585" stroke-width="1.4"/>
<line x1="208.5" y1="1270.7" x2="353.0" y2="1306.2" stroke="#858585" stroke-width="1.4"/>
<line x1="201.9" y1="1289.2" x2="346.0" y2="1235.4" stroke="#858585" stroke-width="1.4"/>
<line x1="209.5" y1="1294.9" x2="356.8" y2="1277.3" stroke="#858585" stroke-width="1.4"/>
<line x1="208.2" y1="1299.6" x2="353.9" y2="1289.8" stroke="#858585" stroke-width="1.4"/>
<line x1="196.8" y1="1313.4" x2="348.3" y2="1311.9" stroke="#858585" stroke-width="1.4"/>
<line x1="196.8" y1="1333.6" x2="354.9" y2="1331.3" stroke="#858585" stroke-width="1.4"/>
<line x1="203.2" y1="1343.0" x2="350.2" y2="1343.4" stroke="#858585" stroke-width="1.4"/>
<line x1="197.6" y1="1348.3" x2="357.3" y2="1354.3" stroke="#858585" stroke-width="1.4"/>
<line x1="248.9" y1="1191.0" x2="248.9" y2="1343.6" stroke="#ff0000" stroke-width="6"/>
<line x1="221.8" y1="1191.0" x2="276.0" y2="1191.0" stroke="#ff0000" stroke-width="6"/>
<line x1="221.8" y1="1343.6" x2="276.0" y2="1343.6" stroke="#ff0000" stroke-width="6"/>
<line x1="308.4" y1="1265.2" x2="308.4" y2="1337.4" stroke="#ff0000" stroke-width="6"/>
<line x1="281.3" y1="1265.2" x2="335.5" y2="1265.2" stroke="#ff0000" stroke-width="6"/>
<line x1="281.3" y1="1337.4" x2="335.5" y2="1337.4" stroke="#ff0000" stroke-width="6"/>
<path d="M248.9 1253.6L259.6 1267.5L248.9 1281.4L238.2 1267.5Z" fill="#fff" stroke="#ff0000" stroke-width="5.9"/>
<path d="M308.4 1287.2L319.1 1301.1L308.4 1315.0L297.7 1301.1Z" fill="#fff" stroke="#ff0000" stroke-width="5.9"/>
<line x1="248.9" y1="1267.5" x2="308.4" y2="1301.1" stroke="#ff0000" stroke-width="6"/>
<rect x="465.0" y="1251.3" width="74.6" height="52.0" fill="none" stroke="#0000ff" stroke-width="1.9" stroke-linejoin="round"/>
<line x1="465.0" y1="1289.2" x2="539.6" y2="1289.2" stroke="#0000ff" stroke-width="1.9"/>
<line x1="502.3" y1="1251.3" x2="502.3" y2="1230.3" stroke="#0000ff" stroke-width="1.9" stroke-dasharray="22.5,14"/>
<line x1="502.3" y1="1378.9" x2="502.3" y2="1303.3" stroke="#0000ff" stroke-width="1.9" stroke-dasharray="22.5,14"/>
<line x1="483.7" y1="1230.3" x2="520.9" y2="1230.3" stroke="#0000ff" stroke-width="1.9"/>
<line x1="483.7" y1="1378.9" x2="520.9" y2="1378.9" stroke="#0000ff" stroke-width="1.9"/>
<rect x="614.1" y="1299.6" width="74.6" height="32.8" fill="none" stroke="#0000ff" stroke-width="1.9" stroke-linejoin="round"/>
<line x1="614.1" y1="1321.5" x2="688.7" y2="1321.5" stroke="#0000ff" stroke-width="1.9"/>
<line x1="651.4" y1="1299.6" x2="651.4" y2="1267.3" stroke="#0000ff" stroke-width="1.9" stroke-dasharray="22.5,14"/>
<line x1="651.4" y1="1347.0" x2="651.4" y2="1332.4" stroke="#0000ff" stroke-width="1.9" stroke-dasharray="22.5,14"/>
<line x1="632.8" y1="1267.3" x2="670.0" y2="1267.3" stroke="#0000ff" stroke-width="1.9"/>
<line x1="632.8" y1="1347.0" x2="670.0" y2="1347.0" stroke="#0000ff" stroke-width="1.9"/>
<circle cx="505.7" cy="1136.8" r="7.4" fill="#0000ff" fill-opacity="0.5" stroke="#000" stroke-width="1.6"/>
<circle cx="648.7" cy="1232.5" r="7.4" fill="#0000ff" fill-opacity="0.5" stroke="#000" stroke-width="1.6"/>
<circle cx="499.7" cy="1230.9" r="7.4" fill="#0000ff" fill-opacity="0.5" stroke="#000" stroke-width="1.6"/>
<circle cx="657.4" cy="1267.3" r="7.4" fill="#0000ff" fill-opacity="0.5" stroke="#000" stroke-width="1.6"/>
<circle cx="507.0" cy="1230.3" r="7.4" fill="#0000ff" fill-opacity="0.5" stroke="#000" stroke-width="1.6"/>
<circle cx="656.5" cy="1300.5" r="7.4" fill="#0000ff" fill-opacity="0.5" stroke="#000" stroke-width="1.6"/>
<circle cx="499.7" cy="1249.8" r="7.4" fill="#0000ff" fill-opacity="0.5" stroke="#000" stroke-width="1.6"/>
<circle cx="654.7" cy="1296.0" r="7.4" fill="#0000ff" fill-opacity="0.5" stroke="#000" stroke-width="1.6"/>
<circle cx="507.0" cy="1252.7" r="7.4" fill="#0000ff" fill-opacity="0.5" stroke="#000" stroke-width="1.6"/>
<circle cx="657.4" cy="1331.5" r="7.4" fill="#0000ff" fill-opacity="0.5" stroke="#000" stroke-width="1.6"/>
<circle cx="500.6" cy="1259.5" r="7.4" fill="#0000ff" fill-opacity="0.5" stroke="#000" stroke-width="1.6"/>
<circle cx="647.4" cy="1302.4" r="7.4" fill="#0000ff" fill-opacity="0.5" stroke="#000" stroke-width="1.6"/>
<circle cx="501.5" cy="1284.1" r="7.4" fill="#0000ff" fill-opacity="0.5" stroke="#000" stroke-width="1.6"/>
<circle cx="646.5" cy="1184.2" r="7.4" fill="#0000ff" fill-opacity="0.5" stroke="#000" stroke-width="1.6"/>
<circle cx="500.2" cy="1288.7" r="7.4" fill="#0000ff" fill-opacity="0.5" stroke="#000" stroke-width="1.6"/>
<circle cx="653.8" cy="1312.4" r="7.4" fill="#0000ff" fill-opacity="0.5" stroke="#000" stroke-width="1.6"/>
<circle cx="498.8" cy="1295.1" r="7.4" fill="#0000ff" fill-opacity="0.5" stroke="#000" stroke-width="1.6"/>
<circle cx="650.1" cy="1320.6" r="7.4" fill="#0000ff" fill-opacity="0.5" stroke="#000" stroke-width="1.6"/>
<circle cx="498.8" cy="1302.4" r="7.4" fill="#0000ff" fill-opacity="0.5" stroke="#000" stroke-width="1.6"/>
<circle cx="645.6" cy="1324.2" r="7.4" fill="#0000ff" fill-opacity="0.5" stroke="#000" stroke-width="1.6"/>
<circle cx="504.6" cy="1306.0" r="7.4" fill="#0000ff" fill-opacity="0.5" stroke="#000" stroke-width="1.6"/>
<circle cx="651.9" cy="1333.3" r="7.4" fill="#0000ff" fill-opacity="0.5" stroke="#000" stroke-width="1.6"/>
<circle cx="506.1" cy="1310.6" r="7.4" fill="#0000ff" fill-opacity="0.5" stroke="#000" stroke-width="1.6"/>
<circle cx="647.4" cy="1336.1" r="7.4" fill="#0000ff" fill-opacity="0.5" stroke="#000" stroke-width="1.6"/>
<circle cx="501.5" cy="1316.9" r="7.4" fill="#0000ff" fill-opacity="0.5" stroke="#000" stroke-width="1.6"/>
<circle cx="657.4" cy="1342.5" r="7.4" fill="#0000ff" fill-opacity="0.5" stroke="#000" stroke-width="1.6"/>
<circle cx="497.3" cy="1378.9" r="7.4" fill="#0000ff" fill-opacity="0.5" stroke="#000" stroke-width="1.6"/>
<circle cx="646.5" cy="1347.0" r="7.4" fill="#0000ff" fill-opacity="0.5" stroke="#000" stroke-width="1.6"/>
<line x1="505.7" y1="1136.8" x2="648.7" y2="1232.5" stroke="#858585" stroke-width="1.4"/>
<line x1="499.7" y1="1230.9" x2="657.4" y2="1267.3" stroke="#858585" stroke-width="1.4"/>
<line x1="507.0" y1="1230.3" x2="656.5" y2="1300.5" stroke="#858585" stroke-width="1.4"/>
<line x1="499.7" y1="1249.8" x2="654.7" y2="1296.0" stroke="#858585" stroke-width="1.4"/>
<line x1="507.0" y1="1252.7" x2="657.4" y2="1331.5" stroke="#858585" stroke-width="1.4"/>
<line x1="500.6" y1="1259.5" x2="647.4" y2="1302.4" stroke="#858585" stroke-width="1.4"/>
<line x1="501.5" y1="1284.1" x2="646.5" y2="1184.2" stroke="#858585" stroke-width="1.4"/>
<line x1="500.2" y1="1288.7" x2="653.8" y2="1312.4" stroke="#858585" stroke-width="1.4"/>
<line x1="498.8" y1="1295.1" x2="650.1" y2="1320.6" stroke="#858585" stroke-width="1.4"/>
<line x1="498.8" y1="1302.4" x2="645.6" y2="1324.2" stroke="#858585" stroke-width="1.4"/>
<line x1="504.6" y1="1306.0" x2="651.9" y2="1333.3" stroke="#858585" stroke-width="1.4"/>
<line x1="506.1" y1="1310.6" x2="647.4" y2="1336.1" stroke="#858585" stroke-width="1.4"/>
<line x1="501.5" y1="1316.9" x2="657.4" y2="1342.5" stroke="#858585" stroke-width="1.4"/>
<line x1="497.3" y1="1378.9" x2="646.5" y2="1347.0" stroke="#858585" stroke-width="1.4"/>
<line x1="547.1" y1="1223.9" x2="547.1" y2="1328.4" stroke="#0000ff" stroke-width="6"/>
<line x1="520.0" y1="1223.9" x2="574.2" y2="1223.9" stroke="#0000ff" stroke-width="6"/>
<line x1="520.0" y1="1328.4" x2="574.2" y2="1328.4" stroke="#0000ff" stroke-width="6"/>
<line x1="606.6" y1="1261.9" x2="606.6" y2="1348.8" stroke="#0000ff" stroke-width="6"/>
<line x1="579.5" y1="1261.9" x2="633.7" y2="1261.9" stroke="#0000ff" stroke-width="6"/>
<line x1="579.5" y1="1348.8" x2="633.7" y2="1348.8" stroke="#0000ff" stroke-width="6"/>
<path d="M547.1 1262.0L557.8 1275.9L547.1 1289.8L536.4 1275.9Z" fill="#fff" stroke="#0000ff" stroke-width="5.9"/>
<path d="M606.6 1291.2L617.3 1305.1L606.6 1319.0L595.9 1305.1Z" fill="#fff" stroke="#0000ff" stroke-width="5.9"/>
<line x1="547.1" y1="1275.9" x2="606.6" y2="1305.1" stroke="#0000ff" stroke-width="6"/>
<rect x="129.5" y="1087.3" width="596.5" height="357.3" fill="none" stroke="#000" stroke-width="1.8"/>
<line x1="129.5" y1="1444.6" x2="135.9" y2="1444.6" stroke="#000" stroke-width="1.8"/>
<line x1="726.0" y1="1444.6" x2="719.6" y2="1444.6" stroke="#000" stroke-width="1.8"/>
<text x="115.9" y="1457.4" text-anchor="end" class="tl">0</text>
<line x1="129.5" y1="1355.3" x2="135.9" y2="1355.3" stroke="#000" stroke-width="1.8"/>
<line x1="726.0" y1="1355.3" x2="719.6" y2="1355.3" stroke="#000" stroke-width="1.8"/>
<text x="115.9" y="1368.1" text-anchor="end" class="tl">0.1</text>
<line x1="129.5" y1="1265.9" x2="135.9" y2="1265.9" stroke="#000" stroke-width="1.8"/>
<line x1="726.0" y1="1265.9" x2="719.6" y2="1265.9" stroke="#000" stroke-width="1.8"/>
<text x="115.9" y="1278.7" text-anchor="end" class="tl">0.2</text>
<line x1="129.5" y1="1176.6" x2="135.9" y2="1176.6" stroke="#000" stroke-width="1.8"/>
<line x1="726.0" y1="1176.6" x2="719.6" y2="1176.6" stroke="#000" stroke-width="1.8"/>
<text x="115.9" y="1189.4" text-anchor="end" class="tl">0.3</text>
<line x1="129.5" y1="1087.3" x2="135.9" y2="1087.3" stroke="#000" stroke-width="1.8"/>
<line x1="726.0" y1="1087.3" x2="719.6" y2="1087.3" stroke="#000" stroke-width="1.8"/>
<text x="115.9" y="1100.1" text-anchor="end" class="tl">0.4</text>
<line x1="204.1" y1="1444.6" x2="204.1" y2="1438.2" stroke="#000" stroke-width="1.8"/>
<line x1="204.1" y1="1087.3" x2="204.1" y2="1093.7" stroke="#000" stroke-width="1.8"/>
<line x1="353.2" y1="1444.6" x2="353.2" y2="1438.2" stroke="#000" stroke-width="1.8"/>
<line x1="353.2" y1="1087.3" x2="353.2" y2="1093.7" stroke="#000" stroke-width="1.8"/>
<line x1="502.3" y1="1444.6" x2="502.3" y2="1438.2" stroke="#000" stroke-width="1.8"/>
<line x1="502.3" y1="1087.3" x2="502.3" y2="1093.7" stroke="#000" stroke-width="1.8"/>
<line x1="651.4" y1="1444.6" x2="651.4" y2="1438.2" stroke="#000" stroke-width="1.8"/>
<line x1="651.4" y1="1087.3" x2="651.4" y2="1093.7" stroke="#000" stroke-width="1.8"/>
<text x="140.6" y="1074.8" class="pl">E</text>
<text x="183.8" y="1074.8" class="tl">SS/EC</text>
<rect x="849.3" y="1260.1" width="74.6" height="82.5" fill="none" stroke="#ff0000" stroke-width="1.9" stroke-linejoin="round"/>
<line x1="849.3" y1="1300.5" x2="923.9" y2="1300.5" stroke="#ff0000" stroke-width="1.9"/>
<line x1="886.6" y1="1260.1" x2="886.6" y2="1230.3" stroke="#ff0000" stroke-width="1.9" stroke-dasharray="22.5,14"/>
<line x1="886.6" y1="1365.3" x2="886.6" y2="1342.6" stroke="#ff0000" stroke-width="1.9" stroke-dasharray="22.5,14"/>
<line x1="868.0" y1="1230.3" x2="905.2" y2="1230.3" stroke="#ff0000" stroke-width="1.9"/>
<line x1="868.0" y1="1365.3" x2="905.2" y2="1365.3" stroke="#ff0000" stroke-width="1.9"/>
<rect x="998.4" y="1310.2" width="74.6" height="35.3" fill="none" stroke="#ff0000" stroke-width="1.9" stroke-linejoin="round"/>
<line x1="998.4" y1="1325.1" x2="1073.0" y2="1325.1" stroke="#ff0000" stroke-width="1.9"/>
<line x1="1035.7" y1="1310.2" x2="1035.7" y2="1305.4" stroke="#ff0000" stroke-width="1.9" stroke-dasharray="22.5,14"/>
<line x1="1035.7" y1="1368.1" x2="1035.7" y2="1345.5" stroke="#ff0000" stroke-width="1.9" stroke-dasharray="22.5,14"/>
<line x1="1017.1" y1="1305.4" x2="1054.3" y2="1305.4" stroke="#ff0000" stroke-width="1.9"/>
<line x1="1017.1" y1="1368.1" x2="1054.3" y2="1368.1" stroke="#ff0000" stroke-width="1.9"/>
<circle cx="882.6" cy="1115.1" r="7.4" fill="#ff0000" fill-opacity="0.5" stroke="#000" stroke-width="1.6"/>
<circle cx="1029.1" cy="1245.0" r="7.4" fill="#ff0000" fill-opacity="0.5" stroke="#000" stroke-width="1.6"/>
<circle cx="881.8" cy="1230.3" r="7.4" fill="#ff0000" fill-opacity="0.5" stroke="#000" stroke-width="1.6"/>
<circle cx="1038.0" cy="1304.9" r="7.4" fill="#ff0000" fill-opacity="0.5" stroke="#000" stroke-width="1.6"/>
<circle cx="880.7" cy="1248.2" r="7.4" fill="#ff0000" fill-opacity="0.5" stroke="#000" stroke-width="1.6"/>
<circle cx="1039.9" cy="1310.5" r="7.4" fill="#ff0000" fill-opacity="0.5" stroke="#000" stroke-width="1.6"/>
<circle cx="883.1" cy="1270.9" r="7.4" fill="#ff0000" fill-opacity="0.5" stroke="#000" stroke-width="1.6"/>
<circle cx="1032.3" cy="1320.0" r="7.4" fill="#ff0000" fill-opacity="0.5" stroke="#000" stroke-width="1.6"/>
<circle cx="880.3" cy="1284.1" r="7.4" fill="#ff0000" fill-opacity="0.5" stroke="#000" stroke-width="1.6"/>
<circle cx="1042.3" cy="1327.5" r="7.4" fill="#ff0000" fill-opacity="0.5" stroke="#000" stroke-width="1.6"/>
<circle cx="892.6" cy="1286.0" r="7.4" fill="#ff0000" fill-opacity="0.5" stroke="#000" stroke-width="1.6"/>
<circle cx="1036.1" cy="1335.1" r="7.4" fill="#ff0000" fill-opacity="0.5" stroke="#000" stroke-width="1.6"/>
<circle cx="885.6" cy="1314.9" r="7.4" fill="#ff0000" fill-opacity="0.5" stroke="#000" stroke-width="1.6"/>
<circle cx="1031.4" cy="1356.8" r="7.4" fill="#ff0000" fill-opacity="0.5" stroke="#000" stroke-width="1.6"/>
<circle cx="885.0" cy="1330.7" r="7.4" fill="#ff0000" fill-opacity="0.5" stroke="#000" stroke-width="1.6"/>
<circle cx="1030.4" cy="1309.6" r="7.4" fill="#ff0000" fill-opacity="0.5" stroke="#000" stroke-width="1.6"/>
<circle cx="887.5" cy="1340.2" r="7.4" fill="#ff0000" fill-opacity="0.5" stroke="#000" stroke-width="1.6"/>
<circle cx="1030.4" cy="1338.3" r="7.4" fill="#ff0000" fill-opacity="0.5" stroke="#000" stroke-width="1.6"/>
<circle cx="890.1" cy="1346.4" r="7.4" fill="#ff0000" fill-opacity="0.5" stroke="#000" stroke-width="1.6"/>
<circle cx="1039.9" cy="1352.1" r="7.4" fill="#ff0000" fill-opacity="0.5" stroke="#000" stroke-width="1.6"/>
<circle cx="893.5" cy="1365.3" r="7.4" fill="#ff0000" fill-opacity="0.5" stroke="#000" stroke-width="1.6"/>
<circle cx="1036.7" cy="1368.1" r="7.4" fill="#ff0000" fill-opacity="0.5" stroke="#000" stroke-width="1.6"/>
<line x1="882.6" y1="1115.1" x2="1029.1" y2="1245.0" stroke="#858585" stroke-width="1.4"/>
<line x1="881.8" y1="1230.3" x2="1038.0" y2="1304.9" stroke="#858585" stroke-width="1.4"/>
<line x1="880.7" y1="1248.2" x2="1039.9" y2="1310.5" stroke="#858585" stroke-width="1.4"/>
<line x1="883.1" y1="1270.9" x2="1032.3" y2="1320.0" stroke="#858585" stroke-width="1.4"/>
<line x1="880.3" y1="1284.1" x2="1042.3" y2="1327.5" stroke="#858585" stroke-width="1.4"/>
<line x1="892.6" y1="1286.0" x2="1036.1" y2="1335.1" stroke="#858585" stroke-width="1.4"/>
<line x1="885.6" y1="1314.9" x2="1031.4" y2="1356.8" stroke="#858585" stroke-width="1.4"/>
<line x1="885.0" y1="1330.7" x2="1030.4" y2="1309.6" stroke="#858585" stroke-width="1.4"/>
<line x1="887.5" y1="1340.2" x2="1030.4" y2="1338.3" stroke="#858585" stroke-width="1.4"/>
<line x1="890.1" y1="1346.4" x2="1039.9" y2="1352.1" stroke="#858585" stroke-width="1.4"/>
<line x1="893.5" y1="1365.3" x2="1036.7" y2="1368.1" stroke="#858585" stroke-width="1.4"/>
<line x1="931.4" y1="1220.5" x2="931.4" y2="1359.3" stroke="#ff0000" stroke-width="6"/>
<line x1="904.3" y1="1220.5" x2="958.5" y2="1220.5" stroke="#ff0000" stroke-width="6"/>
<line x1="904.3" y1="1359.3" x2="958.5" y2="1359.3" stroke="#ff0000" stroke-width="6"/>
<line x1="990.9" y1="1292.6" x2="990.9" y2="1356.4" stroke="#ff0000" stroke-width="6"/>
<line x1="963.8" y1="1292.6" x2="1018.0" y2="1292.6" stroke="#ff0000" stroke-width="6"/>
<line x1="963.8" y1="1356.4" x2="1018.0" y2="1356.4" stroke="#ff0000" stroke-width="6"/>
<path d="M931.4 1275.9L942.1 1289.8L931.4 1303.7L920.7 1289.8Z" fill="#fff" stroke="#ff0000" stroke-width="5.9"/>
<path d="M990.9 1309.9L1001.6 1323.8L990.9 1337.7L980.2 1323.8Z" fill="#fff" stroke="#ff0000" stroke-width="5.9"/>
<line x1="931.4" y1="1289.8" x2="990.9" y2="1323.8" stroke="#ff0000" stroke-width="6"/>
<rect x="1147.5" y="1275.9" width="74.6" height="55.6" fill="none" stroke="#0000ff" stroke-width="1.9" stroke-linejoin="round"/>
<line x1="1147.5" y1="1310.7" x2="1222.1" y2="1310.7" stroke="#0000ff" stroke-width="1.9"/>
<line x1="1184.8" y1="1275.9" x2="1184.8" y2="1225.0" stroke="#0000ff" stroke-width="1.9" stroke-dasharray="22.5,14"/>
<line x1="1184.8" y1="1387.8" x2="1184.8" y2="1331.5" stroke="#0000ff" stroke-width="1.9" stroke-dasharray="22.5,14"/>
<line x1="1166.2" y1="1225.0" x2="1203.4" y2="1225.0" stroke="#0000ff" stroke-width="1.9"/>
<line x1="1166.2" y1="1387.8" x2="1203.4" y2="1387.8" stroke="#0000ff" stroke-width="1.9"/>
<rect x="1296.6" y="1300.6" width="74.6" height="53.3" fill="none" stroke="#0000ff" stroke-width="1.9" stroke-linejoin="round"/>
<line x1="1296.6" y1="1340.6" x2="1371.2" y2="1340.6" stroke="#0000ff" stroke-width="1.9"/>
<line x1="1333.9" y1="1300.6" x2="1333.9" y2="1241.0" stroke="#0000ff" stroke-width="1.9" stroke-dasharray="22.5,14"/>
<line x1="1333.9" y1="1360.8" x2="1333.9" y2="1353.9" stroke="#0000ff" stroke-width="1.9" stroke-dasharray="22.5,14"/>
<line x1="1315.3" y1="1241.0" x2="1352.5" y2="1241.0" stroke="#0000ff" stroke-width="1.9"/>
<line x1="1315.3" y1="1360.8" x2="1352.5" y2="1360.8" stroke="#0000ff" stroke-width="1.9"/>
<circle cx="1180.5" cy="1158.4" r="7.4" fill="#0000ff" fill-opacity="0.5" stroke="#000" stroke-width="1.6"/>
<circle cx="1332.2" cy="1289.6" r="7.4" fill="#0000ff" fill-opacity="0.5" stroke="#000" stroke-width="1.6"/>
<circle cx="1191.5" cy="1225.0" r="7.4" fill="#0000ff" fill-opacity="0.5" stroke="#000" stroke-width="1.6"/>
<circle cx="1335.0" cy="1310.7" r="7.4" fill="#0000ff" fill-opacity="0.5" stroke="#000" stroke-width="1.6"/>
<circle cx="1181.2" cy="1251.1" r="7.4" fill="#0000ff" fill-opacity="0.5" stroke="#000" stroke-width="1.6"/>
<circle cx="1334.1" cy="1206.1" r="7.4" fill="#0000ff" fill-opacity="0.5" stroke="#000" stroke-width="1.6"/>
<circle cx="1182.3" cy="1271.3" r="7.4" fill="#0000ff" fill-opacity="0.5" stroke="#000" stroke-width="1.6"/>
<circle cx="1332.8" cy="1241.0" r="7.4" fill="#0000ff" fill-opacity="0.5" stroke="#000" stroke-width="1.6"/>
<circle cx="1181.8" cy="1279.5" r="7.4" fill="#0000ff" fill-opacity="0.5" stroke="#000" stroke-width="1.6"/>
<circle cx="1335.9" cy="1339.2" r="7.4" fill="#0000ff" fill-opacity="0.5" stroke="#000" stroke-width="1.6"/>
<circle cx="1191.9" cy="1285.0" r="7.4" fill="#0000ff" fill-opacity="0.5" stroke="#000" stroke-width="1.6"/>
<circle cx="1336.8" cy="1350.2" r="7.4" fill="#0000ff" fill-opacity="0.5" stroke="#000" stroke-width="1.6"/>
<circle cx="1184.5" cy="1296.1" r="7.4" fill="#0000ff" fill-opacity="0.5" stroke="#000" stroke-width="1.6"/>
<circle cx="1338.7" cy="1354.8" r="7.4" fill="#0000ff" fill-opacity="0.5" stroke="#000" stroke-width="1.6"/>
<circle cx="1179.0" cy="1309.8" r="7.4" fill="#0000ff" fill-opacity="0.5" stroke="#000" stroke-width="1.6"/>
<circle cx="1336.8" cy="1315.3" r="7.4" fill="#0000ff" fill-opacity="0.5" stroke="#000" stroke-width="1.6"/>
<circle cx="1189.7" cy="1309.8" r="7.4" fill="#0000ff" fill-opacity="0.5" stroke="#000" stroke-width="1.6"/>
<circle cx="1336.8" cy="1361.2" r="7.4" fill="#0000ff" fill-opacity="0.5" stroke="#000" stroke-width="1.6"/>
<circle cx="1184.5" cy="1322.7" r="7.4" fill="#0000ff" fill-opacity="0.5" stroke="#000" stroke-width="1.6"/>
<circle cx="1327.7" cy="1347.4" r="7.4" fill="#0000ff" fill-opacity="0.5" stroke="#000" stroke-width="1.6"/>
<circle cx="1189.1" cy="1325.4" r="7.4" fill="#0000ff" fill-opacity="0.5" stroke="#000" stroke-width="1.6"/>
<circle cx="1326.7" cy="1289.6" r="7.4" fill="#0000ff" fill-opacity="0.5" stroke="#000" stroke-width="1.6"/>
<circle cx="1180.0" cy="1335.5" r="7.4" fill="#0000ff" fill-opacity="0.5" stroke="#000" stroke-width="1.6"/>
<circle cx="1329.5" cy="1357.5" r="7.4" fill="#0000ff" fill-opacity="0.5" stroke="#000" stroke-width="1.6"/>
<circle cx="1180.0" cy="1344.7" r="7.4" fill="#0000ff" fill-opacity="0.5" stroke="#000" stroke-width="1.6"/>
<circle cx="1334.0" cy="1344.0" r="7.4" fill="#0000ff" fill-opacity="0.5" stroke="#000" stroke-width="1.6"/>
<circle cx="1179.0" cy="1347.4" r="7.4" fill="#0000ff" fill-opacity="0.5" stroke="#000" stroke-width="1.6"/>
<circle cx="1331.0" cy="1352.0" r="7.4" fill="#0000ff" fill-opacity="0.5" stroke="#000" stroke-width="1.6"/>
<circle cx="1184.2" cy="1387.8" r="7.4" fill="#0000ff" fill-opacity="0.5" stroke="#000" stroke-width="1.6"/>
<circle cx="1325.8" cy="1359.4" r="7.4" fill="#0000ff" fill-opacity="0.5" stroke="#000" stroke-width="1.6"/>
<line x1="1180.5" y1="1158.4" x2="1332.2" y2="1289.6" stroke="#858585" stroke-width="1.4"/>
<line x1="1191.5" y1="1225.0" x2="1335.0" y2="1310.7" stroke="#858585" stroke-width="1.4"/>
<line x1="1181.2" y1="1251.1" x2="1334.1" y2="1206.1" stroke="#858585" stroke-width="1.4"/>
<line x1="1182.3" y1="1271.3" x2="1332.8" y2="1241.0" stroke="#858585" stroke-width="1.4"/>
<line x1="1181.8" y1="1279.5" x2="1335.9" y2="1339.2" stroke="#858585" stroke-width="1.4"/>
<line x1="1191.9" y1="1285.0" x2="1336.8" y2="1350.2" stroke="#858585" stroke-width="1.4"/>
<line x1="1184.5" y1="1296.1" x2="1338.7" y2="1354.8" stroke="#858585" stroke-width="1.4"/>
<line x1="1179.0" y1="1309.8" x2="1336.8" y2="1315.3" stroke="#858585" stroke-width="1.4"/>
<line x1="1189.7" y1="1309.8" x2="1336.8" y2="1361.2" stroke="#858585" stroke-width="1.4"/>
<line x1="1184.5" y1="1322.7" x2="1327.7" y2="1347.4" stroke="#858585" stroke-width="1.4"/>
<line x1="1189.1" y1="1325.4" x2="1326.7" y2="1289.6" stroke="#858585" stroke-width="1.4"/>
<line x1="1180.0" y1="1335.5" x2="1329.5" y2="1357.5" stroke="#858585" stroke-width="1.4"/>
<line x1="1180.0" y1="1344.7" x2="1334.0" y2="1344.0" stroke="#858585" stroke-width="1.4"/>
<line x1="1179.0" y1="1347.4" x2="1331.0" y2="1352.0" stroke="#858585" stroke-width="1.4"/>
<line x1="1184.2" y1="1387.8" x2="1325.8" y2="1359.4" stroke="#858585" stroke-width="1.4"/>
<line x1="1229.6" y1="1243.8" x2="1229.6" y2="1352.4" stroke="#0000ff" stroke-width="6"/>
<line x1="1202.5" y1="1243.8" x2="1256.7" y2="1243.8" stroke="#0000ff" stroke-width="6"/>
<line x1="1202.5" y1="1352.4" x2="1256.7" y2="1352.4" stroke="#0000ff" stroke-width="6"/>
<line x1="1289.1" y1="1276.8" x2="1289.1" y2="1367.6" stroke="#0000ff" stroke-width="6"/>
<line x1="1262.0" y1="1276.8" x2="1316.2" y2="1276.8" stroke="#0000ff" stroke-width="6"/>
<line x1="1262.0" y1="1367.6" x2="1316.2" y2="1367.6" stroke="#0000ff" stroke-width="6"/>
<path d="M1229.6 1284.0L1240.3 1297.9L1229.6 1311.8L1218.9 1297.9Z" fill="#fff" stroke="#0000ff" stroke-width="5.9"/>
<path d="M1289.1 1307.8L1299.8 1321.7L1289.1 1335.6L1278.4 1321.7Z" fill="#fff" stroke="#0000ff" stroke-width="5.9"/>
<line x1="1229.6" y1="1297.9" x2="1289.1" y2="1321.7" stroke="#0000ff" stroke-width="6"/>
<rect x="812.0" y="1087.3" width="596.0" height="357.3" fill="none" stroke="#000" stroke-width="1.8"/>
<line x1="812.0" y1="1444.6" x2="818.4" y2="1444.6" stroke="#000" stroke-width="1.8"/>
<line x1="1408.0" y1="1444.6" x2="1401.6" y2="1444.6" stroke="#000" stroke-width="1.8"/>
<text x="798.4" y="1457.4" text-anchor="end" class="tl">0</text>
<line x1="812.0" y1="1355.3" x2="818.4" y2="1355.3" stroke="#000" stroke-width="1.8"/>
<line x1="1408.0" y1="1355.3" x2="1401.6" y2="1355.3" stroke="#000" stroke-width="1.8"/>
<text x="798.4" y="1368.1" text-anchor="end" class="tl">0.1</text>
<line x1="812.0" y1="1265.9" x2="818.4" y2="1265.9" stroke="#000" stroke-width="1.8"/>
<line x1="1408.0" y1="1265.9" x2="1401.6" y2="1265.9" stroke="#000" stroke-width="1.8"/>
<text x="798.4" y="1278.7" text-anchor="end" class="tl">0.2</text>
<line x1="812.0" y1="1176.6" x2="818.4" y2="1176.6" stroke="#000" stroke-width="1.8"/>
<line x1="1408.0" y1="1176.6" x2="1401.6" y2="1176.6" stroke="#000" stroke-width="1.8"/>
<text x="798.4" y="1189.4" text-anchor="end" class="tl">0.3</text>
<line x1="812.0" y1="1087.3" x2="818.4" y2="1087.3" stroke="#000" stroke-width="1.8"/>
<line x1="1408.0" y1="1087.3" x2="1401.6" y2="1087.3" stroke="#000" stroke-width="1.8"/>
<text x="798.4" y="1100.1" text-anchor="end" class="tl">0.4</text>
<line x1="886.6" y1="1444.6" x2="886.6" y2="1438.2" stroke="#000" stroke-width="1.8"/>
<line x1="886.6" y1="1087.3" x2="886.6" y2="1093.7" stroke="#000" stroke-width="1.8"/>
<line x1="1035.7" y1="1444.6" x2="1035.7" y2="1438.2" stroke="#000" stroke-width="1.8"/>
<line x1="1035.7" y1="1087.3" x2="1035.7" y2="1093.7" stroke="#000" stroke-width="1.8"/>
<line x1="1184.8" y1="1444.6" x2="1184.8" y2="1438.2" stroke="#000" stroke-width="1.8"/>
<line x1="1184.8" y1="1087.3" x2="1184.8" y2="1093.7" stroke="#000" stroke-width="1.8"/>
<line x1="1333.9" y1="1444.6" x2="1333.9" y2="1438.2" stroke="#000" stroke-width="1.8"/>
<line x1="1333.9" y1="1087.3" x2="1333.9" y2="1093.7" stroke="#000" stroke-width="1.8"/>
<text x="818.2" y="1074.3" class="pl">F</text>
<text x="860.2" y="1074.6" class="tl">SS+VS/EO</text>
<text transform="translate(55.5 238.1) rotate(-90)" text-anchor="middle" class="tl">(deg)</text>
<text transform="translate(31.5 363.6) rotate(-90)" text-anchor="middle" class="it">Better</text>
<path d="M41.3 313.5H51.3L48.0 455.7H44.5Z" fill="#000"/>
<path d="M36.4 454.7H56.2L46.3 471.1Z" fill="#000"/>
<text transform="translate(55.5 754.4) rotate(-90)" text-anchor="middle" class="tl">(deg)</text>
<text transform="translate(31.5 870.5) rotate(-90)" text-anchor="middle" class="it">Better</text>
<path d="M41.3 818.8H51.3L48.0 961.2H44.5Z" fill="#000"/>
<path d="M36.4 960.2H56.2L46.3 976.8Z" fill="#000"/>
<text transform="translate(55.5 1220.3) rotate(-90)" text-anchor="middle" class="tl">(deg)</text>
<text transform="translate(31.5 1321.7) rotate(-90)" text-anchor="middle" class="it">Better</text>
<path d="M41.3 1282.7H51.3L48.0 1425.1H44.5Z" fill="#000"/>
<path d="M35.1 1424.1H57.5L46.3 1442.7Z" fill="#000"/>
<text x="204.1" y="1492.5" text-anchor="middle" class="tl">Pre</text>
<text x="353.2" y="1492.5" text-anchor="middle" class="tl">Post</text>
<text x="502.3" y="1492.5" text-anchor="middle" class="tl">Pre</text>
<text x="651.4" y="1492.5" text-anchor="middle" class="tl">Post</text>
<text x="886.6" y="1492.5" text-anchor="middle" class="tl">Pre</text>
<text x="1035.7" y="1492.5" text-anchor="middle" class="tl">Post</text>
<text x="1184.8" y="1492.5" text-anchor="middle" class="tl">Pre</text>
<text x="1333.9" y="1492.5" text-anchor="middle" class="tl">Post</text>
<circle cx="224.7" cy="1516.8" r="7.6" fill="#ff0000" stroke="#000" stroke-width="1.5"/>
<text x="240.5" y="1527.6" class="lg">Rehabilitation without ABF</text>
<circle cx="922.0" cy="1517.0" r="7.6" fill="#0000ff" stroke="#000" stroke-width="1.5"/>
<text x="935.5" y="1527.6" class="lg">Rehabilitation with ABF</text>
</svg></body></html>
